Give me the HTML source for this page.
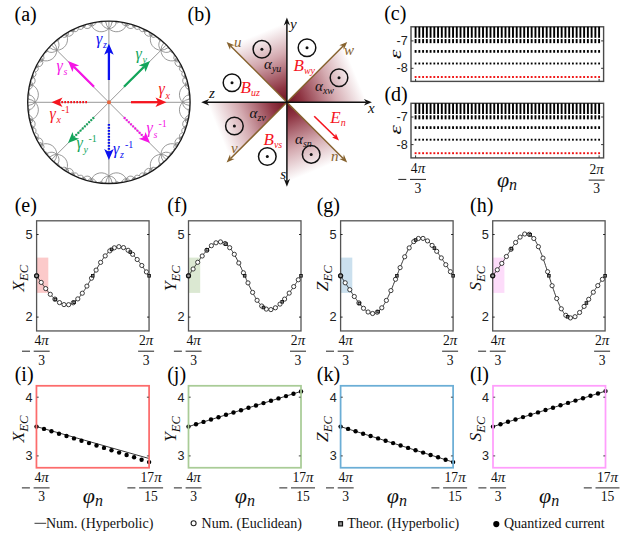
<!DOCTYPE html>
<html><head><meta charset="utf-8"><title>figure</title>
<style>html,body{margin:0;padding:0;background:#fff;}svg{display:block;}.sf{font-family:"Liberation Serif",serif;}.ss{font-family:"Liberation Sans",sans-serif;}</style>
</head><body>
<svg width="640" height="536" viewBox="0 0 640 536">
<rect width="640" height="536" fill="#fff"/>
<g id="pa">
<path d="M108.9 102.3L182.6 102.3M108.9 102.3L161.0 50.2M108.9 102.3L108.9 28.6M108.9 102.3L56.8 50.2M108.9 102.3L35.2 102.3M108.9 102.3L56.8 154.4M108.9 102.3L108.9 176.0M108.9 102.3L161.0 154.4M182.6 102.3L189.5 102.3M182.6 102.3A10.8 10.8 0 0 1 189.4 99.2M182.6 102.3A7.6 7.6 0 0 1 188.8 94.8M182.6 102.3A10.8 10.8 0 0 1 185.6 84.9M182.6 102.3A10.8 10.8 0 0 0 185.6 119.7M182.6 102.3A7.6 7.6 0 0 0 188.8 109.8M182.6 102.3A10.8 10.8 0 0 0 189.4 105.4M161.0 50.2A10.8 10.8 0 0 0 168.0 47.6M161.0 50.2L165.9 45.3M161.0 50.2A10.8 10.8 0 0 1 163.6 43.2M161.0 50.2A7.6 7.6 0 0 1 160.1 40.5M161.0 50.2A10.8 10.8 0 0 1 150.9 35.8M161.0 50.2A10.8 10.8 0 0 0 175.4 60.3M161.0 50.2A7.6 7.6 0 0 0 170.7 51.1M108.9 28.6A7.6 7.6 0 0 0 116.4 22.4M108.9 28.6A10.8 10.8 0 0 0 112.0 21.8M108.9 28.6L108.9 21.7M108.9 28.6A10.8 10.8 0 0 1 105.8 21.8M108.9 28.6A7.6 7.6 0 0 1 101.4 22.4M108.9 28.6A10.8 10.8 0 0 1 91.5 25.6M108.9 28.6A10.8 10.8 0 0 0 126.3 25.6M56.8 50.2A10.8 10.8 0 0 0 66.9 35.8M56.8 50.2A7.6 7.6 0 0 0 57.7 40.5M56.8 50.2A10.8 10.8 0 0 0 54.2 43.2M56.8 50.2L51.9 45.3M56.8 50.2A10.8 10.8 0 0 1 49.8 47.6M56.8 50.2A7.6 7.6 0 0 1 47.1 51.1M56.8 50.2A10.8 10.8 0 0 1 42.4 60.3M35.2 102.3A10.8 10.8 0 0 0 32.2 84.9M35.2 102.3A7.6 7.6 0 0 0 29.0 94.8M35.2 102.3A10.8 10.8 0 0 0 28.4 99.2M35.2 102.3L28.3 102.3M35.2 102.3A10.8 10.8 0 0 1 28.4 105.4M35.2 102.3A7.6 7.6 0 0 1 29.0 109.8M35.2 102.3A10.8 10.8 0 0 1 32.2 119.7M56.8 154.4A10.8 10.8 0 0 1 66.9 168.8M56.8 154.4A10.8 10.8 0 0 0 42.4 144.3M56.8 154.4A7.6 7.6 0 0 0 47.1 153.5M56.8 154.4A10.8 10.8 0 0 0 49.8 157.0M56.8 154.4L51.9 159.3M56.8 154.4A10.8 10.8 0 0 1 54.2 161.4M56.8 154.4A7.6 7.6 0 0 1 57.7 164.1M108.9 176.0A7.6 7.6 0 0 1 116.4 182.2M108.9 176.0A10.8 10.8 0 0 1 126.3 179.0M108.9 176.0A10.8 10.8 0 0 0 91.5 179.0M108.9 176.0A7.6 7.6 0 0 0 101.4 182.2M108.9 176.0A10.8 10.8 0 0 0 105.8 182.8M108.9 176.0L108.9 182.9M108.9 176.0A10.8 10.8 0 0 1 112.0 182.8M161.0 154.4A10.8 10.8 0 0 1 168.0 157.0M161.0 154.4A7.6 7.6 0 0 1 170.7 153.5M161.0 154.4A10.8 10.8 0 0 1 175.4 144.3M161.0 154.4A10.8 10.8 0 0 0 150.9 168.8M161.0 154.4A7.6 7.6 0 0 0 160.1 164.1M161.0 154.4A10.8 10.8 0 0 0 163.6 161.4M161.0 154.4L165.9 159.3M189.5 102.3L189.9 102.3M189.4 99.2A0.6 0.6 0 0 1 189.6 98.1M188.8 94.8A0.7 0.7 0 0 1 189.4 94.0M188.8 94.8A1.1 1.1 0 0 1 189.1 92.8M188.8 94.8A0.9 0.9 0 0 0 189.5 96.2M185.6 84.9A2.8 2.8 0 0 0 188.3 88.7M185.6 84.9A2.4 2.4 0 0 0 188.1 86.3M185.6 84.9A4.5 4.5 0 0 0 187.9 85.1M185.6 84.9A10.8 10.8 0 0 1 187.7 84.2M185.6 84.9A2.8 2.8 0 0 1 187.5 83.2M185.6 84.9A2.4 2.4 0 0 1 186.9 81.6M185.6 84.9A4.5 4.5 0 0 1 184.4 77.1M185.6 119.7A2.8 2.8 0 0 1 188.3 115.9M185.6 119.7A4.5 4.5 0 0 0 184.4 127.5M185.6 119.7A2.4 2.4 0 0 0 186.9 123.0M185.6 119.7A2.8 2.8 0 0 0 187.5 121.4M185.6 119.7A10.8 10.8 0 0 0 187.7 120.4M185.6 119.7A4.5 4.5 0 0 1 187.9 119.5M185.6 119.7A2.4 2.4 0 0 1 188.1 118.3M188.8 109.8A0.9 0.9 0 0 1 189.5 108.4M188.8 109.8A1.1 1.1 0 0 0 189.1 111.8M188.8 109.8A0.7 0.7 0 0 0 189.4 110.6M189.4 105.4A0.6 0.6 0 0 0 189.6 106.5M168.0 47.6A0.6 0.6 0 0 0 169.0 48.2M165.9 45.3L166.2 45.0M163.6 43.2A0.6 0.6 0 0 1 163.0 42.2M160.1 40.5A0.9 0.9 0 0 0 161.6 41.0M160.1 40.5A0.7 0.7 0 0 1 159.9 39.5M160.1 40.5A1.1 1.1 0 0 1 158.9 38.9M150.9 35.8A2.8 2.8 0 0 0 155.4 36.6M150.9 35.8A2.4 2.4 0 0 0 153.6 35.0M150.9 35.8A4.5 4.5 0 0 0 152.6 34.3M150.9 35.8A10.8 10.8 0 0 1 151.8 33.7M150.9 35.8A2.8 2.8 0 0 1 150.9 33.2M150.9 35.8A2.4 2.4 0 0 1 149.4 32.5M150.9 35.8A4.5 4.5 0 0 1 144.5 31.1M175.4 60.3A2.4 2.4 0 0 1 176.2 57.6M175.4 60.3A2.8 2.8 0 0 1 174.6 55.8M175.4 60.3A4.5 4.5 0 0 0 180.1 66.7M175.4 60.3A2.4 2.4 0 0 0 178.7 61.8M175.4 60.3A2.8 2.8 0 0 0 178.0 60.3M175.4 60.3A10.8 10.8 0 0 0 177.5 59.4M175.4 60.3A4.5 4.5 0 0 1 176.9 58.6M170.7 51.1A0.9 0.9 0 0 1 170.2 49.6M170.7 51.1A1.1 1.1 0 0 0 172.3 52.3M170.7 51.1A0.7 0.7 0 0 0 171.7 51.3M116.4 22.4A0.9 0.9 0 0 1 115.0 21.7M116.4 22.4A1.1 1.1 0 0 0 118.4 22.1M116.4 22.4A0.7 0.7 0 0 0 117.2 21.8M112.0 21.8A0.6 0.6 0 0 0 113.1 21.6M108.9 21.7L108.9 21.3M105.8 21.8A0.6 0.6 0 0 1 104.7 21.6M101.4 22.4A0.9 0.9 0 0 0 102.8 21.7M101.4 22.4A0.7 0.7 0 0 1 100.6 21.8M101.4 22.4A1.1 1.1 0 0 1 99.4 22.1M91.5 25.6A4.5 4.5 0 0 1 83.7 26.8M91.5 25.6A2.8 2.8 0 0 0 95.3 22.9M91.5 25.6A2.4 2.4 0 0 0 92.9 23.1M91.5 25.6A4.5 4.5 0 0 0 91.7 23.3M91.5 25.6A10.8 10.8 0 0 1 90.8 23.5M91.5 25.6A2.8 2.8 0 0 1 89.8 23.7M91.5 25.6A2.4 2.4 0 0 1 88.2 24.3M126.3 25.6A4.5 4.5 0 0 1 126.1 23.3M126.3 25.6A2.4 2.4 0 0 1 124.9 23.1M126.3 25.6A2.8 2.8 0 0 1 122.5 22.9M126.3 25.6A4.5 4.5 0 0 0 134.1 26.8M126.3 25.6A2.4 2.4 0 0 0 129.6 24.3M126.3 25.6A2.8 2.8 0 0 0 128.0 23.7M126.3 25.6A10.8 10.8 0 0 0 127.0 23.5M66.9 35.8A10.8 10.8 0 0 0 66.0 33.7M66.9 35.8A4.5 4.5 0 0 1 65.2 34.3M66.9 35.8A2.4 2.4 0 0 1 64.2 35.0M66.9 35.8A2.8 2.8 0 0 1 62.4 36.6M66.9 35.8A4.5 4.5 0 0 0 73.3 31.1M66.9 35.8A2.4 2.4 0 0 0 68.4 32.5M66.9 35.8A2.8 2.8 0 0 0 66.9 33.2M57.7 40.5A0.9 0.9 0 0 1 56.2 41.0M57.7 40.5A1.1 1.1 0 0 0 58.9 38.9M57.7 40.5A0.7 0.7 0 0 0 57.9 39.5M54.2 43.2A0.6 0.6 0 0 0 54.8 42.2M51.9 45.3L51.6 45.0M49.8 47.6A0.6 0.6 0 0 1 48.8 48.2M47.1 51.1A1.1 1.1 0 0 1 45.5 52.3M47.1 51.1A0.9 0.9 0 0 0 47.6 49.6M47.1 51.1A0.7 0.7 0 0 1 46.1 51.3M42.4 60.3A2.4 2.4 0 0 1 39.1 61.8M42.4 60.3A4.5 4.5 0 0 1 37.7 66.7M42.4 60.3A2.8 2.8 0 0 0 43.2 55.8M42.4 60.3A2.4 2.4 0 0 0 41.6 57.6M42.4 60.3A4.5 4.5 0 0 0 40.9 58.6M42.4 60.3A10.8 10.8 0 0 1 40.3 59.4M42.4 60.3A2.8 2.8 0 0 1 39.8 60.3M32.2 84.9A2.8 2.8 0 0 0 30.3 83.2M32.2 84.9A10.8 10.8 0 0 0 30.1 84.2M32.2 84.9A4.5 4.5 0 0 1 29.9 85.1M32.2 84.9A2.4 2.4 0 0 1 29.7 86.3M32.2 84.9A2.8 2.8 0 0 1 29.5 88.7M32.2 84.9A4.5 4.5 0 0 0 33.4 77.1M32.2 84.9A2.4 2.4 0 0 0 30.9 81.6M29.0 94.8A0.7 0.7 0 0 0 28.4 94.0M29.0 94.8A0.9 0.9 0 0 1 28.3 96.2M29.0 94.8A1.1 1.1 0 0 0 28.7 92.8M28.4 99.2A0.6 0.6 0 0 0 28.2 98.1M28.3 102.3L27.9 102.3M28.4 105.4A0.6 0.6 0 0 1 28.2 106.5M29.0 109.8A0.7 0.7 0 0 1 28.4 110.6M29.0 109.8A1.1 1.1 0 0 1 28.7 111.8M29.0 109.8A0.9 0.9 0 0 0 28.3 108.4M32.2 119.7A2.8 2.8 0 0 1 30.3 121.4M32.2 119.7A2.4 2.4 0 0 1 30.9 123.0M32.2 119.7A4.5 4.5 0 0 1 33.4 127.5M32.2 119.7A2.8 2.8 0 0 0 29.5 115.9M32.2 119.7A2.4 2.4 0 0 0 29.7 118.3M32.2 119.7A4.5 4.5 0 0 0 29.9 119.5M32.2 119.7A10.8 10.8 0 0 1 30.1 120.4M66.9 168.8A10.8 10.8 0 0 1 66.0 170.9M66.9 168.8A2.8 2.8 0 0 1 66.9 171.4M66.9 168.8A2.4 2.4 0 0 1 68.4 172.1M66.9 168.8A4.5 4.5 0 0 1 73.3 173.5M66.9 168.8A2.8 2.8 0 0 0 62.4 168.0M66.9 168.8A2.4 2.4 0 0 0 64.2 169.6M66.9 168.8A4.5 4.5 0 0 0 65.2 170.3M42.4 144.3A2.4 2.4 0 0 0 39.1 142.8M42.4 144.3A2.8 2.8 0 0 0 39.8 144.3M42.4 144.3A10.8 10.8 0 0 0 40.3 145.2M42.4 144.3A4.5 4.5 0 0 1 40.9 146.0M42.4 144.3A2.4 2.4 0 0 1 41.6 147.0M42.4 144.3A2.8 2.8 0 0 1 43.2 148.8M42.4 144.3A4.5 4.5 0 0 0 37.7 137.9M47.1 153.5A1.1 1.1 0 0 0 45.5 152.3M47.1 153.5A0.7 0.7 0 0 0 46.1 153.3M47.1 153.5A0.9 0.9 0 0 1 47.6 155.0M49.8 157.0A0.6 0.6 0 0 0 48.8 156.4M51.9 159.3L51.6 159.6M54.2 161.4A0.6 0.6 0 0 1 54.8 162.4M57.7 164.1A0.7 0.7 0 0 1 57.9 165.1M57.7 164.1A1.1 1.1 0 0 1 58.9 165.7M57.7 164.1A0.9 0.9 0 0 0 56.2 163.6M116.4 182.2A0.7 0.7 0 0 1 117.2 182.8M116.4 182.2A1.1 1.1 0 0 1 118.4 182.5M116.4 182.2A0.9 0.9 0 0 0 115.0 182.9M126.3 179.0A4.5 4.5 0 0 0 126.1 181.3M126.3 179.0A10.8 10.8 0 0 1 127.0 181.1M126.3 179.0A2.8 2.8 0 0 1 128.0 180.9M126.3 179.0A2.4 2.4 0 0 1 129.6 180.3M126.3 179.0A4.5 4.5 0 0 1 134.1 177.8M126.3 179.0A2.8 2.8 0 0 0 122.5 181.7M126.3 179.0A2.4 2.4 0 0 0 124.9 181.5M91.5 179.0A4.5 4.5 0 0 0 83.7 177.8M91.5 179.0A2.4 2.4 0 0 0 88.2 180.3M91.5 179.0A2.8 2.8 0 0 0 89.8 180.9M91.5 179.0A10.8 10.8 0 0 0 90.8 181.1M91.5 179.0A4.5 4.5 0 0 1 91.7 181.3M91.5 179.0A2.4 2.4 0 0 1 92.9 181.5M91.5 179.0A2.8 2.8 0 0 1 95.3 181.7M101.4 182.2A1.1 1.1 0 0 0 99.4 182.5M101.4 182.2A0.7 0.7 0 0 0 100.6 182.8M101.4 182.2A0.9 0.9 0 0 1 102.8 182.9M105.8 182.8A0.6 0.6 0 0 0 104.7 183.0M108.9 182.9L108.9 183.3M112.0 182.8A0.6 0.6 0 0 1 113.1 183.0M168.0 157.0A0.6 0.6 0 0 1 169.0 156.4M170.7 153.5A0.7 0.7 0 0 1 171.7 153.3M170.7 153.5A1.1 1.1 0 0 1 172.3 152.3M170.7 153.5A0.9 0.9 0 0 0 170.2 155.0M175.4 144.3A2.4 2.4 0 0 0 176.2 147.0M175.4 144.3A4.5 4.5 0 0 0 176.9 146.0M175.4 144.3A10.8 10.8 0 0 1 177.5 145.2M175.4 144.3A2.8 2.8 0 0 1 178.0 144.3M175.4 144.3A2.4 2.4 0 0 1 178.7 142.8M175.4 144.3A4.5 4.5 0 0 1 180.1 137.9M175.4 144.3A2.8 2.8 0 0 0 174.6 148.8M150.9 168.8A4.5 4.5 0 0 0 144.5 173.5M150.9 168.8A2.4 2.4 0 0 0 149.4 172.1M150.9 168.8A2.8 2.8 0 0 0 150.9 171.4M150.9 168.8A10.8 10.8 0 0 0 151.8 170.9M150.9 168.8A4.5 4.5 0 0 1 152.6 170.3M150.9 168.8A2.4 2.4 0 0 1 153.6 169.6M150.9 168.8A2.8 2.8 0 0 1 155.4 168.0M160.1 164.1A0.9 0.9 0 0 1 161.6 163.6M160.1 164.1A1.1 1.1 0 0 0 158.9 165.7M160.1 164.1A0.7 0.7 0 0 0 159.9 165.1M163.6 161.4A0.6 0.6 0 0 0 163.0 162.4M165.9 159.3L166.2 159.6M189.9 102.3L189.9 102.3M189.1 92.8A0.6 0.6 0 0 1 189.0 91.8M188.3 88.7A0.8 0.8 0 0 0 188.7 90.1M184.4 77.1A1.5 1.5 0 0 1 184.9 74.9M184.4 77.1A3.2 3.2 0 0 1 182.6 71.8M184.4 77.1A1.6 1.6 0 0 0 186.2 78.9M184.4 77.1A1.5 1.5 0 0 0 186.0 77.7M184.4 77.1A3.2 3.2 0 0 0 185.8 77.0M184.4 77.1A4.5 4.5 0 0 1 185.6 76.5M184.4 77.1A1.6 1.6 0 0 1 185.4 75.9M188.3 115.9A0.8 0.8 0 0 1 188.7 114.5M184.4 127.5A1.5 1.5 0 0 0 184.9 129.7M184.4 127.5A1.6 1.6 0 0 0 185.4 128.7M184.4 127.5A4.5 4.5 0 0 0 185.6 128.1M184.4 127.5A3.2 3.2 0 0 1 185.8 127.6M184.4 127.5A1.5 1.5 0 0 1 186.0 126.9M184.4 127.5A1.6 1.6 0 0 1 186.2 125.7M184.4 127.5A3.2 3.2 0 0 0 182.6 132.8M189.1 111.8A0.6 0.6 0 0 0 189.0 112.8M158.9 38.9A0.6 0.6 0 0 1 158.1 38.2M155.4 36.6A0.8 0.8 0 0 0 156.7 37.2M144.5 31.1A1.6 1.6 0 0 1 144.3 29.5M144.5 31.1A1.5 1.5 0 0 1 143.3 29.2M144.5 31.1A3.2 3.2 0 0 1 139.4 28.6M144.5 31.1A1.6 1.6 0 0 0 147.0 31.1M144.5 31.1A1.5 1.5 0 0 0 146.0 30.4M144.5 31.1A3.2 3.2 0 0 0 145.4 30.1M144.5 31.1A4.5 4.5 0 0 1 144.9 29.8M174.6 55.8A0.8 0.8 0 0 1 174.0 54.5M180.1 66.7A3.2 3.2 0 0 0 182.6 71.8M180.1 66.7A1.5 1.5 0 0 0 182.0 67.9M180.1 66.7A1.6 1.6 0 0 0 181.7 66.9M180.1 66.7A4.5 4.5 0 0 0 181.4 66.3M180.1 66.7A3.2 3.2 0 0 1 181.1 65.8M180.1 66.7A1.5 1.5 0 0 1 180.8 65.2M180.1 66.7A1.6 1.6 0 0 1 180.1 64.2M172.3 52.3A0.6 0.6 0 0 0 173.0 53.1M118.4 22.1A0.6 0.6 0 0 0 119.4 22.2M99.4 22.1A0.6 0.6 0 0 1 98.4 22.2M83.7 26.8A4.5 4.5 0 0 1 83.1 25.6M83.7 26.8A1.6 1.6 0 0 1 82.5 25.8M83.7 26.8A1.5 1.5 0 0 1 81.5 26.3M83.7 26.8A3.2 3.2 0 0 1 78.4 28.6M83.7 26.8A1.6 1.6 0 0 0 85.5 25.0M83.7 26.8A1.5 1.5 0 0 0 84.3 25.2M83.7 26.8A3.2 3.2 0 0 0 83.6 25.4M95.3 22.9A0.8 0.8 0 0 0 96.7 22.5M122.5 22.9A0.8 0.8 0 0 1 121.1 22.5M134.1 26.8A3.2 3.2 0 0 0 139.4 28.6M134.1 26.8A1.5 1.5 0 0 0 136.3 26.3M134.1 26.8A1.6 1.6 0 0 0 135.3 25.8M134.1 26.8A4.5 4.5 0 0 0 134.7 25.6M134.1 26.8A3.2 3.2 0 0 1 134.2 25.4M134.1 26.8A1.5 1.5 0 0 1 133.5 25.2M134.1 26.8A1.6 1.6 0 0 1 132.3 25.0M62.4 36.6A0.8 0.8 0 0 1 61.1 37.2M73.3 31.1A1.6 1.6 0 0 1 70.8 31.1M73.3 31.1A3.2 3.2 0 0 0 78.4 28.6M73.3 31.1A1.5 1.5 0 0 0 74.5 29.2M73.3 31.1A1.6 1.6 0 0 0 73.5 29.5M73.3 31.1A4.5 4.5 0 0 0 72.9 29.8M73.3 31.1A3.2 3.2 0 0 1 72.4 30.1M73.3 31.1A1.5 1.5 0 0 1 71.8 30.4M58.9 38.9A0.6 0.6 0 0 0 59.7 38.2M45.5 52.3A0.6 0.6 0 0 1 44.8 53.1M37.7 66.7A3.2 3.2 0 0 0 36.7 65.8M37.7 66.7A4.5 4.5 0 0 1 36.4 66.3M37.7 66.7A1.6 1.6 0 0 1 36.1 66.9M37.7 66.7A1.5 1.5 0 0 1 35.8 67.9M37.7 66.7A3.2 3.2 0 0 1 35.2 71.8M37.7 66.7A1.6 1.6 0 0 0 37.7 64.2M37.7 66.7A1.5 1.5 0 0 0 37.0 65.2M43.2 55.8A0.8 0.8 0 0 0 43.8 54.5M29.5 88.7A0.8 0.8 0 0 1 29.1 90.1M33.4 77.1A1.5 1.5 0 0 1 31.8 77.7M33.4 77.1A1.6 1.6 0 0 1 31.6 78.9M33.4 77.1A3.2 3.2 0 0 0 35.2 71.8M33.4 77.1A1.5 1.5 0 0 0 32.9 74.9M33.4 77.1A1.6 1.6 0 0 0 32.4 75.9M33.4 77.1A4.5 4.5 0 0 0 32.2 76.5M33.4 77.1A3.2 3.2 0 0 1 32.0 77.0M28.7 92.8A0.6 0.6 0 0 0 28.8 91.8M28.7 111.8A0.6 0.6 0 0 1 28.8 112.8M33.4 127.5A1.5 1.5 0 0 0 31.8 126.9M33.4 127.5A3.2 3.2 0 0 0 32.0 127.6M33.4 127.5A4.5 4.5 0 0 1 32.2 128.1M33.4 127.5A1.6 1.6 0 0 1 32.4 128.7M33.4 127.5A1.5 1.5 0 0 1 32.9 129.7M33.4 127.5A3.2 3.2 0 0 1 35.2 132.8M33.4 127.5A1.6 1.6 0 0 0 31.6 125.7M29.5 115.9A0.8 0.8 0 0 0 29.1 114.5M73.3 173.5A1.6 1.6 0 0 0 70.8 173.5M73.3 173.5A1.5 1.5 0 0 0 71.8 174.2M73.3 173.5A3.2 3.2 0 0 0 72.4 174.5M73.3 173.5A4.5 4.5 0 0 1 72.9 174.8M73.3 173.5A1.6 1.6 0 0 1 73.5 175.1M73.3 173.5A1.5 1.5 0 0 1 74.5 175.4M73.3 173.5A3.2 3.2 0 0 1 78.4 176.0M62.4 168.0A0.8 0.8 0 0 0 61.1 167.4M43.2 148.8A0.8 0.8 0 0 1 43.8 150.1M37.7 137.9A3.2 3.2 0 0 1 36.7 138.8M37.7 137.9A1.5 1.5 0 0 1 37.0 139.4M37.7 137.9A1.6 1.6 0 0 1 37.7 140.4M37.7 137.9A3.2 3.2 0 0 0 35.2 132.8M37.7 137.9A1.5 1.5 0 0 0 35.8 136.7M37.7 137.9A1.6 1.6 0 0 0 36.1 137.7M37.7 137.9A4.5 4.5 0 0 0 36.4 138.3M45.5 152.3A0.6 0.6 0 0 0 44.8 151.5M58.9 165.7A0.6 0.6 0 0 1 59.7 166.4M118.4 182.5A0.6 0.6 0 0 1 119.4 182.4M134.1 177.8A1.6 1.6 0 0 0 132.3 179.6M134.1 177.8A1.5 1.5 0 0 0 133.5 179.4M134.1 177.8A3.2 3.2 0 0 0 134.2 179.2M134.1 177.8A4.5 4.5 0 0 1 134.7 179.0M134.1 177.8A1.6 1.6 0 0 1 135.3 178.8M134.1 177.8A1.5 1.5 0 0 1 136.3 178.3M134.1 177.8A3.2 3.2 0 0 1 139.4 176.0M122.5 181.7A0.8 0.8 0 0 0 121.1 182.1M83.7 177.8A4.5 4.5 0 0 0 83.1 179.0M83.7 177.8A3.2 3.2 0 0 1 83.6 179.2M83.7 177.8A1.5 1.5 0 0 1 84.3 179.4M83.7 177.8A1.6 1.6 0 0 1 85.5 179.6M83.7 177.8A3.2 3.2 0 0 0 78.4 176.0M83.7 177.8A1.5 1.5 0 0 0 81.5 178.3M83.7 177.8A1.6 1.6 0 0 0 82.5 178.8M95.3 181.7A0.8 0.8 0 0 1 96.7 182.1M99.4 182.5A0.6 0.6 0 0 0 98.4 182.4M172.3 152.3A0.6 0.6 0 0 1 173.0 151.5M180.1 137.9A3.2 3.2 0 0 1 182.6 132.8M180.1 137.9A1.6 1.6 0 0 0 180.1 140.4M180.1 137.9A1.5 1.5 0 0 0 180.8 139.4M180.1 137.9A3.2 3.2 0 0 0 181.1 138.8M180.1 137.9A4.5 4.5 0 0 1 181.4 138.3M180.1 137.9A1.6 1.6 0 0 1 181.7 137.7M180.1 137.9A1.5 1.5 0 0 1 182.0 136.7M174.6 148.8A0.8 0.8 0 0 0 174.0 150.1M144.5 173.5A1.6 1.6 0 0 0 144.3 175.1M144.5 173.5A4.5 4.5 0 0 0 144.9 174.8M144.5 173.5A3.2 3.2 0 0 1 145.4 174.5M144.5 173.5A1.5 1.5 0 0 1 146.0 174.2M144.5 173.5A1.6 1.6 0 0 1 147.0 173.5M144.5 173.5A3.2 3.2 0 0 0 139.4 176.0M144.5 173.5A1.5 1.5 0 0 0 143.3 175.4M155.4 168.0A0.8 0.8 0 0 1 156.7 167.4M158.9 165.7A0.6 0.6 0 0 0 158.1 166.4" fill="none" stroke="#858585" stroke-width="0.85"/>
<circle cx="108.9" cy="102.3" r="81.2" fill="none" stroke="#1a1a1a" stroke-width="1.35"/>
<line x1="108.9" y1="80.0" x2="108.9" y2="52.0" stroke="#0a10f0" stroke-width="2.30"/><path d="M108.9 43.8L113.7 54.8L108.9 52.0L104.2 54.8Z" fill="#0a10f0"/>
<line x1="124.0" y1="86.8" x2="144.1" y2="66.8" stroke="#12a55a" stroke-width="2.30"/><path d="M150.0 61.0L145.5 72.1L144.1 66.8L138.8 65.4Z" fill="#12a55a"/>
<line x1="94.0" y1="86.8" x2="73.9" y2="66.8" stroke="#f514e6" stroke-width="2.30"/><path d="M68.0 61.0L79.2 65.4L73.9 66.8L72.5 72.1Z" fill="#f514e6"/>
<line x1="131.0" y1="102.2" x2="158.2" y2="102.2" stroke="#f5141e" stroke-width="2.30"/><path d="M166.5 102.2L155.5 107.0L158.2 102.2L155.5 97.5Z" fill="#f5141e"/>
<line x1="87.0" y1="102.2" x2="59.8" y2="102.2" stroke="#f5141e" stroke-width="2.30" stroke-dasharray="1.7 1.3"/><path d="M51.5 102.2L62.5 97.5L59.8 102.2L62.5 107.0Z" fill="#f5141e"/>
<line x1="94.0" y1="117.4" x2="73.9" y2="137.2" stroke="#12a55a" stroke-width="2.30" stroke-dasharray="1.7 1.3"/><path d="M68.0 143.0L72.5 131.9L73.9 137.2L79.2 138.7Z" fill="#12a55a"/>
<line x1="108.9" y1="124.0" x2="108.9" y2="151.8" stroke="#0a10f0" stroke-width="2.30" stroke-dasharray="1.7 1.3"/><path d="M108.9 160.0L104.2 149.0L108.9 151.8L113.7 149.0Z" fill="#0a10f0"/>
<line x1="124.0" y1="117.4" x2="144.1" y2="137.2" stroke="#f514e6" stroke-width="2.30" stroke-dasharray="1.7 1.3"/><path d="M150.0 143.0L138.8 138.7L144.1 137.2L145.5 131.9Z" fill="#f514e6"/>
<circle cx="109" cy="102.2" r="2" fill="#e8643c"/>
<text x="96.0" y="43.9" fill="#0a10f0" class="sf" font-style="italic" font-size="16">γ</text><text x="103.0" y="48.1" fill="#0a10f0" class="sf" font-style="italic" font-size="10">z</text>
<text x="135.5" y="58.9" fill="#12a55a" class="sf" font-style="italic" font-size="16">γ</text><text x="142.5" y="63.1" fill="#12a55a" class="sf" font-style="italic" font-size="10">y</text>
<text x="56.5" y="70.9" fill="#f514e6" class="sf" font-style="italic" font-size="16">γ</text><text x="63.5" y="75.1" fill="#f514e6" class="sf" font-style="italic" font-size="10">s</text>
<text x="158.5" y="94.4" fill="#f5141e" class="sf" font-style="italic" font-size="16">γ</text><text x="165.5" y="98.6" fill="#f5141e" class="sf" font-style="italic" font-size="10">x</text>
<text x="49.5" y="118.9" fill="#f5141e" class="sf" font-style="italic" font-size="16">γ</text><text x="56.5" y="123.1" fill="#f5141e" class="sf" font-style="italic" font-size="10">x</text><text x="61.5" y="112.7" fill="#f5141e" class="sf" font-size="10">-1</text>
<text x="76.5" y="148.4" fill="#12a55a" class="sf" font-style="italic" font-size="16">γ</text><text x="83.5" y="152.6" fill="#12a55a" class="sf" font-style="italic" font-size="10">y</text><text x="88.5" y="142.2" fill="#12a55a" class="sf" font-size="10">-1</text>
<text x="113.0" y="153.9" fill="#0a10f0" class="sf" font-style="italic" font-size="16">γ</text><text x="120.0" y="158.1" fill="#0a10f0" class="sf" font-style="italic" font-size="10">z</text><text x="125.0" y="147.7" fill="#0a10f0" class="sf" font-size="10">-1</text>
<text x="146.5" y="133.4" fill="#f514e6" class="sf" font-style="italic" font-size="16">γ</text><text x="153.5" y="137.6" fill="#f514e6" class="sf" font-style="italic" font-size="10">s</text><text x="158.5" y="127.2" fill="#f514e6" class="sf" font-size="10">-1</text>
</g>
<g id="pb">
<defs><linearGradient id="lg0" gradientUnits="userSpaceOnUse" x1="286.9" y1="102.2" x2="258.6" y2="33.8"><stop offset="0" stop-color="#6e1420"/><stop offset="0.2" stop-color="#8e3442"/><stop offset="0.62" stop-color="#d4aab0"/><stop offset="1" stop-color="#ffffff"/></linearGradient><linearGradient id="lg1" gradientUnits="userSpaceOnUse" x1="286.9" y1="102.2" x2="355.3" y2="73.9"><stop offset="0" stop-color="#6e1420"/><stop offset="0.2" stop-color="#8e3442"/><stop offset="0.62" stop-color="#d4aab0"/><stop offset="1" stop-color="#ffffff"/></linearGradient><linearGradient id="lg2" gradientUnits="userSpaceOnUse" x1="286.9" y1="102.2" x2="218.5" y2="130.5"><stop offset="0" stop-color="#6e1420"/><stop offset="0.2" stop-color="#8e3442"/><stop offset="0.62" stop-color="#d4aab0"/><stop offset="1" stop-color="#ffffff"/></linearGradient><linearGradient id="lg3" gradientUnits="userSpaceOnUse" x1="286.9" y1="102.2" x2="315.2" y2="170.6"><stop offset="0" stop-color="#6e1420"/><stop offset="0.2" stop-color="#8e3442"/><stop offset="0.62" stop-color="#d4aab0"/><stop offset="1" stop-color="#ffffff"/></linearGradient></defs>
<path d="M286.9 102.2L286.9 14.2A88 88 0 0 0 224.7 40.0Z" fill="url(#lg0)"/>
<path d="M286.9 102.2L374.9 102.2A88 88 0 0 0 349.1 40.0Z" fill="url(#lg1)"/>
<path d="M286.9 102.2L198.9 102.2A88 88 0 0 0 224.7 164.4Z" fill="url(#lg2)"/>
<path d="M286.9 102.2L286.9 190.2A88 88 0 0 0 349.1 164.4Z" fill="url(#lg3)"/>
<line x1="286.9" y1="102.2" x2="230.6" y2="45.9" stroke="#86622e" stroke-width="1.45"/><path d="M226.6 41.9L234.5 45.3L230.6 45.9L230.0 49.8Z" fill="#86622e"/>
<line x1="286.9" y1="102.2" x2="343.2" y2="45.9" stroke="#86622e" stroke-width="1.45"/><path d="M347.2 41.9L343.8 49.8L343.2 45.9L339.3 45.3Z" fill="#86622e"/>
<line x1="286.9" y1="102.2" x2="230.6" y2="158.5" stroke="#86622e" stroke-width="1.45"/><path d="M226.6 162.5L230.0 154.6L230.6 158.5L234.5 159.1Z" fill="#86622e"/>
<line x1="286.9" y1="102.2" x2="343.2" y2="158.5" stroke="#86622e" stroke-width="1.45"/><path d="M347.2 162.5L339.3 159.1L343.2 158.5L343.8 154.6Z" fill="#86622e"/>
<line x1="286.9" y1="102.2" x2="286.9" y2="23.0" stroke="#111" stroke-width="1.50"/><path d="M286.9 17.4L290.0 25.4L286.9 23.0L283.8 25.4Z" fill="#111"/>
<line x1="286.9" y1="102.2" x2="286.9" y2="181.2" stroke="#111" stroke-width="1.50"/><path d="M286.9 186.8L283.8 178.8L286.9 181.2L290.0 178.8Z" fill="#111"/>
<line x1="286.9" y1="102.2" x2="206.8" y2="102.2" stroke="#111" stroke-width="1.50"/><path d="M201.2 102.2L209.2 99.0L206.8 102.2L209.2 105.4Z" fill="#111"/>
<line x1="286.9" y1="102.2" x2="366.3" y2="102.2" stroke="#111" stroke-width="1.50"/><path d="M371.9 102.2L363.9 105.4L366.3 102.2L363.9 99.0Z" fill="#111"/>
<circle cx="261.9" cy="49.3" r="8.8" fill="none" stroke="#111" stroke-width="1.5"/><circle cx="261.9" cy="49.3" r="1.5" fill="#111"/>
<circle cx="307.0" cy="47.8" r="8.8" fill="none" stroke="#111" stroke-width="1.5"/><circle cx="307.0" cy="47.8" r="1.5" fill="#111"/>
<circle cx="339.0" cy="77.7" r="8.8" fill="none" stroke="#111" stroke-width="1.5"/><circle cx="339.0" cy="77.7" r="1.5" fill="#111"/>
<circle cx="232.0" cy="82.7" r="8.8" fill="none" stroke="#111" stroke-width="1.5"/><circle cx="232.0" cy="82.7" r="1.5" fill="#111"/>
<circle cx="234.4" cy="126.0" r="8.8" fill="none" stroke="#111" stroke-width="1.5"/><circle cx="234.4" cy="126.0" r="1.5" fill="#111"/>
<circle cx="267.3" cy="156.5" r="8.8" fill="none" stroke="#111" stroke-width="1.5"/><circle cx="267.3" cy="156.5" r="1.5" fill="#111"/>
<circle cx="311.2" cy="154.4" r="8.8" fill="none" stroke="#111" stroke-width="1.5"/><circle cx="311.2" cy="154.4" r="1.5" fill="#111"/>
<text x="264.0" y="69.0" fill="#111" class="sf" font-style="italic" font-size="15">α<tspan font-size="10" dy="3">yu</tspan></text>
<text x="293.5" y="71.0" fill="#f5141e" class="sf" font-style="italic" font-size="17">B<tspan font-size="10" dy="3">wy</tspan></text>
<text x="315.0" y="90.5" fill="#111" class="sf" font-style="italic" font-size="15">α<tspan font-size="10" dy="3">xw</tspan></text>
<text x="240.5" y="93.0" fill="#f5141e" class="sf" font-style="italic" font-size="17">B<tspan font-size="10" dy="3">uz</tspan></text>
<text x="249.5" y="117.5" fill="#111" class="sf" font-style="italic" font-size="15">α<tspan font-size="10" dy="3">zv</tspan></text>
<text x="263.5" y="144.8" fill="#f5141e" class="sf" font-style="italic" font-size="17">B<tspan font-size="10" dy="3">vs</tspan></text>
<text x="295.0" y="144.0" fill="#111" class="sf" font-style="italic" font-size="15">α<tspan font-size="10" dy="3">sn</tspan></text>
<text x="330.3" y="122.5" fill="#f5141e" class="sf" font-style="italic" font-size="17">E<tspan font-size="10" dy="3">n</tspan></text>
<line x1="314.2" y1="116.2" x2="335.0" y2="136.5" stroke="#f5141e" stroke-width="1.60"/><path d="M339.0 140.4L332.1 137.5L335.0 136.5L335.9 133.5Z" fill="#f5141e"/>
<text x="290.0" y="29.0" fill="#111" class="sf" font-style="italic" font-size="15">y</text>
<text x="368.0" y="113.0" fill="#111" class="sf" font-style="italic" font-size="15">x</text>
<text x="209.0" y="98.0" fill="#111" class="sf" font-style="italic" font-size="15">z</text>
<text x="280.3" y="178.5" fill="#111" class="sf" font-style="italic" font-size="15">s</text>
<text x="234.0" y="47.0" fill="#86622e" class="sf" font-style="italic" font-size="15">u</text>
<text x="344.0" y="55.0" fill="#86622e" class="sf" font-style="italic" font-size="15">w</text>
<text x="231.0" y="152.5" fill="#86622e" class="sf" font-style="italic" font-size="15">v</text>
<text x="331.0" y="160.5" fill="#86622e" class="sf" font-style="italic" font-size="15">n</text>
</g>
<g id="pc">
<rect x="411.0" y="26.8" width="192.6" height="54.6" fill="#fff" stroke="#4a4a4a" stroke-width="1.4"/><rect x="414.65" y="26.8" width="1.9" height="11.0" fill="#000"/><rect x="418.39" y="26.8" width="1.9" height="11.0" fill="#000"/><rect x="422.14" y="26.8" width="1.9" height="11.0" fill="#000"/><rect x="425.88" y="26.8" width="1.9" height="11.0" fill="#000"/><rect x="429.63" y="26.8" width="1.9" height="11.0" fill="#000"/><rect x="433.37" y="26.8" width="1.9" height="11.0" fill="#000"/><rect x="437.12" y="26.8" width="1.9" height="11.0" fill="#000"/><rect x="440.86" y="26.8" width="1.9" height="11.0" fill="#000"/><rect x="444.61" y="26.8" width="1.9" height="11.0" fill="#000"/><rect x="448.35" y="26.8" width="1.9" height="11.0" fill="#000"/><rect x="452.10" y="26.8" width="1.9" height="11.0" fill="#000"/><rect x="455.84" y="26.8" width="1.9" height="11.0" fill="#000"/><rect x="459.59" y="26.8" width="1.9" height="11.0" fill="#000"/><rect x="463.33" y="26.8" width="1.9" height="11.0" fill="#000"/><rect x="467.08" y="26.8" width="1.9" height="11.0" fill="#000"/><rect x="470.82" y="26.8" width="1.9" height="11.0" fill="#000"/><rect x="474.57" y="26.8" width="1.9" height="11.0" fill="#000"/><rect x="478.31" y="26.8" width="1.9" height="11.0" fill="#000"/><rect x="482.06" y="26.8" width="1.9" height="11.0" fill="#000"/><rect x="485.80" y="26.8" width="1.9" height="11.0" fill="#000"/><rect x="489.55" y="26.8" width="1.9" height="11.0" fill="#000"/><rect x="493.29" y="26.8" width="1.9" height="11.0" fill="#000"/><rect x="497.04" y="26.8" width="1.9" height="11.0" fill="#000"/><rect x="500.78" y="26.8" width="1.9" height="11.0" fill="#000"/><rect x="504.53" y="26.8" width="1.9" height="11.0" fill="#000"/><rect x="508.27" y="26.8" width="1.9" height="11.0" fill="#000"/><rect x="512.02" y="26.8" width="1.9" height="11.0" fill="#000"/><rect x="515.76" y="26.8" width="1.9" height="11.0" fill="#000"/><rect x="519.51" y="26.8" width="1.9" height="11.0" fill="#000"/><rect x="523.25" y="26.8" width="1.9" height="11.0" fill="#000"/><rect x="527.00" y="26.8" width="1.9" height="11.0" fill="#000"/><rect x="530.74" y="26.8" width="1.9" height="11.0" fill="#000"/><rect x="534.49" y="26.8" width="1.9" height="11.0" fill="#000"/><rect x="538.23" y="26.8" width="1.9" height="11.0" fill="#000"/><rect x="541.98" y="26.8" width="1.9" height="11.0" fill="#000"/><rect x="545.72" y="26.8" width="1.9" height="11.0" fill="#000"/><rect x="549.47" y="26.8" width="1.9" height="11.0" fill="#000"/><rect x="553.21" y="26.8" width="1.9" height="11.0" fill="#000"/><rect x="556.96" y="26.8" width="1.9" height="11.0" fill="#000"/><rect x="560.70" y="26.8" width="1.9" height="11.0" fill="#000"/><rect x="564.45" y="26.8" width="1.9" height="11.0" fill="#000"/><rect x="568.19" y="26.8" width="1.9" height="11.0" fill="#000"/><rect x="571.94" y="26.8" width="1.9" height="11.0" fill="#000"/><rect x="575.68" y="26.8" width="1.9" height="11.0" fill="#000"/><rect x="579.43" y="26.8" width="1.9" height="11.0" fill="#000"/><rect x="583.17" y="26.8" width="1.9" height="11.0" fill="#000"/><rect x="586.92" y="26.8" width="1.9" height="11.0" fill="#000"/><rect x="590.66" y="26.8" width="1.9" height="11.0" fill="#000"/><rect x="594.41" y="26.8" width="1.9" height="11.0" fill="#000"/><rect x="598.15" y="26.8" width="1.9" height="11.0" fill="#000"/><rect x="414.65" y="39.05" width="1.9" height="4.1" fill="#000"/><rect x="418.39" y="39.05" width="1.9" height="4.1" fill="#000"/><rect x="422.14" y="39.05" width="1.9" height="4.1" fill="#000"/><rect x="425.88" y="39.05" width="1.9" height="4.1" fill="#000"/><rect x="429.63" y="39.05" width="1.9" height="4.1" fill="#000"/><rect x="433.37" y="39.05" width="1.9" height="4.1" fill="#000"/><rect x="437.12" y="39.05" width="1.9" height="4.1" fill="#000"/><rect x="440.86" y="39.05" width="1.9" height="4.1" fill="#000"/><rect x="444.61" y="39.05" width="1.9" height="4.1" fill="#000"/><rect x="448.35" y="39.05" width="1.9" height="4.1" fill="#000"/><rect x="452.10" y="39.05" width="1.9" height="4.1" fill="#000"/><rect x="455.84" y="39.05" width="1.9" height="4.1" fill="#000"/><rect x="459.59" y="39.05" width="1.9" height="4.1" fill="#000"/><rect x="463.33" y="39.05" width="1.9" height="4.1" fill="#000"/><rect x="467.08" y="39.05" width="1.9" height="4.1" fill="#000"/><rect x="470.82" y="39.05" width="1.9" height="4.1" fill="#000"/><rect x="474.57" y="39.05" width="1.9" height="4.1" fill="#000"/><rect x="478.31" y="39.05" width="1.9" height="4.1" fill="#000"/><rect x="482.06" y="39.05" width="1.9" height="4.1" fill="#000"/><rect x="485.80" y="39.05" width="1.9" height="4.1" fill="#000"/><rect x="489.55" y="39.05" width="1.9" height="4.1" fill="#000"/><rect x="493.29" y="39.05" width="1.9" height="4.1" fill="#000"/><rect x="497.04" y="39.05" width="1.9" height="4.1" fill="#000"/><rect x="500.78" y="39.05" width="1.9" height="4.1" fill="#000"/><rect x="504.53" y="39.05" width="1.9" height="4.1" fill="#000"/><rect x="508.27" y="39.05" width="1.9" height="4.1" fill="#000"/><rect x="512.02" y="39.05" width="1.9" height="4.1" fill="#000"/><rect x="515.76" y="39.05" width="1.9" height="4.1" fill="#000"/><rect x="519.51" y="39.05" width="1.9" height="4.1" fill="#000"/><rect x="523.25" y="39.05" width="1.9" height="4.1" fill="#000"/><rect x="527.00" y="39.05" width="1.9" height="4.1" fill="#000"/><rect x="530.74" y="39.05" width="1.9" height="4.1" fill="#000"/><rect x="534.49" y="39.05" width="1.9" height="4.1" fill="#000"/><rect x="538.23" y="39.05" width="1.9" height="4.1" fill="#000"/><rect x="541.98" y="39.05" width="1.9" height="4.1" fill="#000"/><rect x="545.72" y="39.05" width="1.9" height="4.1" fill="#000"/><rect x="549.47" y="39.05" width="1.9" height="4.1" fill="#000"/><rect x="553.21" y="39.05" width="1.9" height="4.1" fill="#000"/><rect x="556.96" y="39.05" width="1.9" height="4.1" fill="#000"/><rect x="560.70" y="39.05" width="1.9" height="4.1" fill="#000"/><rect x="564.45" y="39.05" width="1.9" height="4.1" fill="#000"/><rect x="568.19" y="39.05" width="1.9" height="4.1" fill="#000"/><rect x="571.94" y="39.05" width="1.9" height="4.1" fill="#000"/><rect x="575.68" y="39.05" width="1.9" height="4.1" fill="#000"/><rect x="579.43" y="39.05" width="1.9" height="4.1" fill="#000"/><rect x="583.17" y="39.05" width="1.9" height="4.1" fill="#000"/><rect x="586.92" y="39.05" width="1.9" height="4.1" fill="#000"/><rect x="590.66" y="39.05" width="1.9" height="4.1" fill="#000"/><rect x="594.41" y="39.05" width="1.9" height="4.1" fill="#000"/><rect x="598.15" y="39.05" width="1.9" height="4.1" fill="#000"/><rect x="414.65" y="50.05" width="1.9" height="2.7" fill="#000"/><rect x="418.39" y="50.05" width="1.9" height="2.7" fill="#000"/><rect x="422.14" y="50.05" width="1.9" height="2.7" fill="#000"/><rect x="425.88" y="50.05" width="1.9" height="2.7" fill="#000"/><rect x="429.63" y="50.05" width="1.9" height="2.7" fill="#000"/><rect x="433.37" y="50.05" width="1.9" height="2.7" fill="#000"/><rect x="437.12" y="50.05" width="1.9" height="2.7" fill="#000"/><rect x="440.86" y="50.05" width="1.9" height="2.7" fill="#000"/><rect x="444.61" y="50.05" width="1.9" height="2.7" fill="#000"/><rect x="448.35" y="50.05" width="1.9" height="2.7" fill="#000"/><rect x="452.10" y="50.05" width="1.9" height="2.7" fill="#000"/><rect x="455.84" y="50.05" width="1.9" height="2.7" fill="#000"/><rect x="459.59" y="50.05" width="1.9" height="2.7" fill="#000"/><rect x="463.33" y="50.05" width="1.9" height="2.7" fill="#000"/><rect x="467.08" y="50.05" width="1.9" height="2.7" fill="#000"/><rect x="470.82" y="50.05" width="1.9" height="2.7" fill="#000"/><rect x="474.57" y="50.05" width="1.9" height="2.7" fill="#000"/><rect x="478.31" y="50.05" width="1.9" height="2.7" fill="#000"/><rect x="482.06" y="50.05" width="1.9" height="2.7" fill="#000"/><rect x="485.80" y="50.05" width="1.9" height="2.7" fill="#000"/><rect x="489.55" y="50.05" width="1.9" height="2.7" fill="#000"/><rect x="493.29" y="50.05" width="1.9" height="2.7" fill="#000"/><rect x="497.04" y="50.05" width="1.9" height="2.7" fill="#000"/><rect x="500.78" y="50.05" width="1.9" height="2.7" fill="#000"/><rect x="504.53" y="50.05" width="1.9" height="2.7" fill="#000"/><rect x="508.27" y="50.05" width="1.9" height="2.7" fill="#000"/><rect x="512.02" y="50.05" width="1.9" height="2.7" fill="#000"/><rect x="515.76" y="50.05" width="1.9" height="2.7" fill="#000"/><rect x="519.51" y="50.05" width="1.9" height="2.7" fill="#000"/><rect x="523.25" y="50.05" width="1.9" height="2.7" fill="#000"/><rect x="527.00" y="50.05" width="1.9" height="2.7" fill="#000"/><rect x="530.74" y="50.05" width="1.9" height="2.7" fill="#000"/><rect x="534.49" y="50.05" width="1.9" height="2.7" fill="#000"/><rect x="538.23" y="50.05" width="1.9" height="2.7" fill="#000"/><rect x="541.98" y="50.05" width="1.9" height="2.7" fill="#000"/><rect x="545.72" y="50.05" width="1.9" height="2.7" fill="#000"/><rect x="549.47" y="50.05" width="1.9" height="2.7" fill="#000"/><rect x="553.21" y="50.05" width="1.9" height="2.7" fill="#000"/><rect x="556.96" y="50.05" width="1.9" height="2.7" fill="#000"/><rect x="560.70" y="50.05" width="1.9" height="2.7" fill="#000"/><rect x="564.45" y="50.05" width="1.9" height="2.7" fill="#000"/><rect x="568.19" y="50.05" width="1.9" height="2.7" fill="#000"/><rect x="571.94" y="50.05" width="1.9" height="2.7" fill="#000"/><rect x="575.68" y="50.05" width="1.9" height="2.7" fill="#000"/><rect x="579.43" y="50.05" width="1.9" height="2.7" fill="#000"/><rect x="583.17" y="50.05" width="1.9" height="2.7" fill="#000"/><rect x="586.92" y="50.05" width="1.9" height="2.7" fill="#000"/><rect x="590.66" y="50.05" width="1.9" height="2.7" fill="#000"/><rect x="594.41" y="50.05" width="1.9" height="2.7" fill="#000"/><rect x="598.15" y="50.05" width="1.9" height="2.7" fill="#000"/><rect x="414.70" y="62.55" width="1.8" height="1.9" fill="#000"/><rect x="418.44" y="62.55" width="1.8" height="1.9" fill="#000"/><rect x="422.19" y="62.55" width="1.8" height="1.9" fill="#000"/><rect x="425.93" y="62.55" width="1.8" height="1.9" fill="#000"/><rect x="429.68" y="62.55" width="1.8" height="1.9" fill="#000"/><rect x="433.42" y="62.55" width="1.8" height="1.9" fill="#000"/><rect x="437.17" y="62.55" width="1.8" height="1.9" fill="#000"/><rect x="440.91" y="62.55" width="1.8" height="1.9" fill="#000"/><rect x="444.66" y="62.55" width="1.8" height="1.9" fill="#000"/><rect x="448.40" y="62.55" width="1.8" height="1.9" fill="#000"/><rect x="452.15" y="62.55" width="1.8" height="1.9" fill="#000"/><rect x="455.89" y="62.55" width="1.8" height="1.9" fill="#000"/><rect x="459.64" y="62.55" width="1.8" height="1.9" fill="#000"/><rect x="463.38" y="62.55" width="1.8" height="1.9" fill="#000"/><rect x="467.13" y="62.55" width="1.8" height="1.9" fill="#000"/><rect x="470.87" y="62.55" width="1.8" height="1.9" fill="#000"/><rect x="474.62" y="62.55" width="1.8" height="1.9" fill="#000"/><rect x="478.36" y="62.55" width="1.8" height="1.9" fill="#000"/><rect x="482.11" y="62.55" width="1.8" height="1.9" fill="#000"/><rect x="485.85" y="62.55" width="1.8" height="1.9" fill="#000"/><rect x="489.60" y="62.55" width="1.8" height="1.9" fill="#000"/><rect x="493.34" y="62.55" width="1.8" height="1.9" fill="#000"/><rect x="497.09" y="62.55" width="1.8" height="1.9" fill="#000"/><rect x="500.83" y="62.55" width="1.8" height="1.9" fill="#000"/><rect x="504.58" y="62.55" width="1.8" height="1.9" fill="#000"/><rect x="508.32" y="62.55" width="1.8" height="1.9" fill="#000"/><rect x="512.07" y="62.55" width="1.8" height="1.9" fill="#000"/><rect x="515.81" y="62.55" width="1.8" height="1.9" fill="#000"/><rect x="519.56" y="62.55" width="1.8" height="1.9" fill="#000"/><rect x="523.30" y="62.55" width="1.8" height="1.9" fill="#000"/><rect x="527.05" y="62.55" width="1.8" height="1.9" fill="#000"/><rect x="530.79" y="62.55" width="1.8" height="1.9" fill="#000"/><rect x="534.54" y="62.55" width="1.8" height="1.9" fill="#000"/><rect x="538.28" y="62.55" width="1.8" height="1.9" fill="#000"/><rect x="542.03" y="62.55" width="1.8" height="1.9" fill="#000"/><rect x="545.77" y="62.55" width="1.8" height="1.9" fill="#000"/><rect x="549.52" y="62.55" width="1.8" height="1.9" fill="#000"/><rect x="553.26" y="62.55" width="1.8" height="1.9" fill="#000"/><rect x="557.01" y="62.55" width="1.8" height="1.9" fill="#000"/><rect x="560.75" y="62.55" width="1.8" height="1.9" fill="#000"/><rect x="564.50" y="62.55" width="1.8" height="1.9" fill="#000"/><rect x="568.24" y="62.55" width="1.8" height="1.9" fill="#000"/><rect x="571.99" y="62.55" width="1.8" height="1.9" fill="#000"/><rect x="575.73" y="62.55" width="1.8" height="1.9" fill="#000"/><rect x="579.48" y="62.55" width="1.8" height="1.9" fill="#000"/><rect x="583.22" y="62.55" width="1.8" height="1.9" fill="#000"/><rect x="586.97" y="62.55" width="1.8" height="1.9" fill="#000"/><rect x="590.71" y="62.55" width="1.8" height="1.9" fill="#000"/><rect x="594.46" y="62.55" width="1.8" height="1.9" fill="#000"/><rect x="598.20" y="62.55" width="1.8" height="1.9" fill="#000"/><rect x="414.65" y="76.05" width="1.9" height="1.9" fill="#f01010"/><rect x="418.39" y="76.05" width="1.9" height="1.9" fill="#f01010"/><rect x="422.14" y="76.05" width="1.9" height="1.9" fill="#f01010"/><rect x="425.88" y="76.05" width="1.9" height="1.9" fill="#f01010"/><rect x="429.63" y="76.05" width="1.9" height="1.9" fill="#f01010"/><rect x="433.37" y="76.05" width="1.9" height="1.9" fill="#f01010"/><rect x="437.12" y="76.05" width="1.9" height="1.9" fill="#f01010"/><rect x="440.86" y="76.05" width="1.9" height="1.9" fill="#f01010"/><rect x="444.61" y="76.05" width="1.9" height="1.9" fill="#f01010"/><rect x="448.35" y="76.05" width="1.9" height="1.9" fill="#f01010"/><rect x="452.10" y="76.05" width="1.9" height="1.9" fill="#f01010"/><rect x="455.84" y="76.05" width="1.9" height="1.9" fill="#f01010"/><rect x="459.59" y="76.05" width="1.9" height="1.9" fill="#f01010"/><rect x="463.33" y="76.05" width="1.9" height="1.9" fill="#f01010"/><rect x="467.08" y="76.05" width="1.9" height="1.9" fill="#f01010"/><rect x="470.82" y="76.05" width="1.9" height="1.9" fill="#f01010"/><rect x="474.57" y="76.05" width="1.9" height="1.9" fill="#f01010"/><rect x="478.31" y="76.05" width="1.9" height="1.9" fill="#f01010"/><rect x="482.06" y="76.05" width="1.9" height="1.9" fill="#f01010"/><rect x="485.80" y="76.05" width="1.9" height="1.9" fill="#f01010"/><rect x="489.55" y="76.05" width="1.9" height="1.9" fill="#f01010"/><rect x="493.29" y="76.05" width="1.9" height="1.9" fill="#f01010"/><rect x="497.04" y="76.05" width="1.9" height="1.9" fill="#f01010"/><rect x="500.78" y="76.05" width="1.9" height="1.9" fill="#f01010"/><rect x="504.53" y="76.05" width="1.9" height="1.9" fill="#f01010"/><rect x="508.27" y="76.05" width="1.9" height="1.9" fill="#f01010"/><rect x="512.02" y="76.05" width="1.9" height="1.9" fill="#f01010"/><rect x="515.76" y="76.05" width="1.9" height="1.9" fill="#f01010"/><rect x="519.51" y="76.05" width="1.9" height="1.9" fill="#f01010"/><rect x="523.25" y="76.05" width="1.9" height="1.9" fill="#f01010"/><rect x="527.00" y="76.05" width="1.9" height="1.9" fill="#f01010"/><rect x="530.74" y="76.05" width="1.9" height="1.9" fill="#f01010"/><rect x="534.49" y="76.05" width="1.9" height="1.9" fill="#f01010"/><rect x="538.23" y="76.05" width="1.9" height="1.9" fill="#f01010"/><rect x="541.98" y="76.05" width="1.9" height="1.9" fill="#f01010"/><rect x="545.72" y="76.05" width="1.9" height="1.9" fill="#f01010"/><rect x="549.47" y="76.05" width="1.9" height="1.9" fill="#f01010"/><rect x="553.21" y="76.05" width="1.9" height="1.9" fill="#f01010"/><rect x="556.96" y="76.05" width="1.9" height="1.9" fill="#f01010"/><rect x="560.70" y="76.05" width="1.9" height="1.9" fill="#f01010"/><rect x="564.45" y="76.05" width="1.9" height="1.9" fill="#f01010"/><rect x="568.19" y="76.05" width="1.9" height="1.9" fill="#f01010"/><rect x="571.94" y="76.05" width="1.9" height="1.9" fill="#f01010"/><rect x="575.68" y="76.05" width="1.9" height="1.9" fill="#f01010"/><rect x="579.43" y="76.05" width="1.9" height="1.9" fill="#f01010"/><rect x="583.17" y="76.05" width="1.9" height="1.9" fill="#f01010"/><rect x="586.92" y="76.05" width="1.9" height="1.9" fill="#f01010"/><rect x="590.66" y="76.05" width="1.9" height="1.9" fill="#f01010"/><rect x="594.41" y="76.05" width="1.9" height="1.9" fill="#f01010"/><rect x="598.15" y="76.05" width="1.9" height="1.9" fill="#f01010"/><line x1="411.0" y1="40.9" x2="413.5" y2="40.9" stroke="#333" stroke-width="1"/><line x1="603.6" y1="40.9" x2="601.1" y2="40.9" stroke="#333" stroke-width="1"/><line x1="411.0" y1="68.3" x2="413.5" y2="68.3" stroke="#333" stroke-width="1"/><line x1="603.6" y1="68.3" x2="601.1" y2="68.3" stroke="#333" stroke-width="1"/><line x1="415.6" y1="81.4" x2="415.6" y2="78.9" stroke="#333" stroke-width="1"/><line x1="599.1" y1="81.4" x2="599.1" y2="78.9" stroke="#333" stroke-width="1"/>
<rect x="411.0" y="103.3" width="192.6" height="54.6" fill="#fff" stroke="#4a4a4a" stroke-width="1.4"/><rect x="414.65" y="103.3" width="1.9" height="10.7" fill="#000"/><rect x="418.39" y="103.3" width="1.9" height="10.7" fill="#000"/><rect x="422.14" y="103.3" width="1.9" height="10.7" fill="#000"/><rect x="425.88" y="103.3" width="1.9" height="10.7" fill="#000"/><rect x="429.63" y="103.3" width="1.9" height="10.7" fill="#000"/><rect x="433.37" y="103.3" width="1.9" height="10.7" fill="#000"/><rect x="437.12" y="103.3" width="1.9" height="10.7" fill="#000"/><rect x="440.86" y="103.3" width="1.9" height="10.7" fill="#000"/><rect x="444.61" y="103.3" width="1.9" height="10.7" fill="#000"/><rect x="448.35" y="103.3" width="1.9" height="10.7" fill="#000"/><rect x="452.10" y="103.3" width="1.9" height="10.7" fill="#000"/><rect x="455.84" y="103.3" width="1.9" height="10.7" fill="#000"/><rect x="459.59" y="103.3" width="1.9" height="10.7" fill="#000"/><rect x="463.33" y="103.3" width="1.9" height="10.7" fill="#000"/><rect x="467.08" y="103.3" width="1.9" height="10.7" fill="#000"/><rect x="470.82" y="103.3" width="1.9" height="10.7" fill="#000"/><rect x="474.57" y="103.3" width="1.9" height="10.7" fill="#000"/><rect x="478.31" y="103.3" width="1.9" height="10.7" fill="#000"/><rect x="482.06" y="103.3" width="1.9" height="10.7" fill="#000"/><rect x="485.80" y="103.3" width="1.9" height="10.7" fill="#000"/><rect x="489.55" y="103.3" width="1.9" height="10.7" fill="#000"/><rect x="493.29" y="103.3" width="1.9" height="10.7" fill="#000"/><rect x="497.04" y="103.3" width="1.9" height="10.7" fill="#000"/><rect x="500.78" y="103.3" width="1.9" height="10.7" fill="#000"/><rect x="504.53" y="103.3" width="1.9" height="10.7" fill="#000"/><rect x="508.27" y="103.3" width="1.9" height="10.7" fill="#000"/><rect x="512.02" y="103.3" width="1.9" height="10.7" fill="#000"/><rect x="515.76" y="103.3" width="1.9" height="10.7" fill="#000"/><rect x="519.51" y="103.3" width="1.9" height="10.7" fill="#000"/><rect x="523.25" y="103.3" width="1.9" height="10.7" fill="#000"/><rect x="527.00" y="103.3" width="1.9" height="10.7" fill="#000"/><rect x="530.74" y="103.3" width="1.9" height="10.7" fill="#000"/><rect x="534.49" y="103.3" width="1.9" height="10.7" fill="#000"/><rect x="538.23" y="103.3" width="1.9" height="10.7" fill="#000"/><rect x="541.98" y="103.3" width="1.9" height="10.7" fill="#000"/><rect x="545.72" y="103.3" width="1.9" height="10.7" fill="#000"/><rect x="549.47" y="103.3" width="1.9" height="10.7" fill="#000"/><rect x="553.21" y="103.3" width="1.9" height="10.7" fill="#000"/><rect x="556.96" y="103.3" width="1.9" height="10.7" fill="#000"/><rect x="560.70" y="103.3" width="1.9" height="10.7" fill="#000"/><rect x="564.45" y="103.3" width="1.9" height="10.7" fill="#000"/><rect x="568.19" y="103.3" width="1.9" height="10.7" fill="#000"/><rect x="571.94" y="103.3" width="1.9" height="10.7" fill="#000"/><rect x="575.68" y="103.3" width="1.9" height="10.7" fill="#000"/><rect x="579.43" y="103.3" width="1.9" height="10.7" fill="#000"/><rect x="583.17" y="103.3" width="1.9" height="10.7" fill="#000"/><rect x="586.92" y="103.3" width="1.9" height="10.7" fill="#000"/><rect x="590.66" y="103.3" width="1.9" height="10.7" fill="#000"/><rect x="594.41" y="103.3" width="1.9" height="10.7" fill="#000"/><rect x="598.15" y="103.3" width="1.9" height="10.7" fill="#000"/><rect x="414.65" y="115.25" width="1.9" height="4.1" fill="#000"/><rect x="418.39" y="115.25" width="1.9" height="4.1" fill="#000"/><rect x="422.14" y="115.25" width="1.9" height="4.1" fill="#000"/><rect x="425.88" y="115.25" width="1.9" height="4.1" fill="#000"/><rect x="429.63" y="115.25" width="1.9" height="4.1" fill="#000"/><rect x="433.37" y="115.25" width="1.9" height="4.1" fill="#000"/><rect x="437.12" y="115.25" width="1.9" height="4.1" fill="#000"/><rect x="440.86" y="115.25" width="1.9" height="4.1" fill="#000"/><rect x="444.61" y="115.25" width="1.9" height="4.1" fill="#000"/><rect x="448.35" y="115.25" width="1.9" height="4.1" fill="#000"/><rect x="452.10" y="115.25" width="1.9" height="4.1" fill="#000"/><rect x="455.84" y="115.25" width="1.9" height="4.1" fill="#000"/><rect x="459.59" y="115.25" width="1.9" height="4.1" fill="#000"/><rect x="463.33" y="115.25" width="1.9" height="4.1" fill="#000"/><rect x="467.08" y="115.25" width="1.9" height="4.1" fill="#000"/><rect x="470.82" y="115.25" width="1.9" height="4.1" fill="#000"/><rect x="474.57" y="115.25" width="1.9" height="4.1" fill="#000"/><rect x="478.31" y="115.25" width="1.9" height="4.1" fill="#000"/><rect x="482.06" y="115.25" width="1.9" height="4.1" fill="#000"/><rect x="485.80" y="115.25" width="1.9" height="4.1" fill="#000"/><rect x="489.55" y="115.25" width="1.9" height="4.1" fill="#000"/><rect x="493.29" y="115.25" width="1.9" height="4.1" fill="#000"/><rect x="497.04" y="115.25" width="1.9" height="4.1" fill="#000"/><rect x="500.78" y="115.25" width="1.9" height="4.1" fill="#000"/><rect x="504.53" y="115.25" width="1.9" height="4.1" fill="#000"/><rect x="508.27" y="115.25" width="1.9" height="4.1" fill="#000"/><rect x="512.02" y="115.25" width="1.9" height="4.1" fill="#000"/><rect x="515.76" y="115.25" width="1.9" height="4.1" fill="#000"/><rect x="519.51" y="115.25" width="1.9" height="4.1" fill="#000"/><rect x="523.25" y="115.25" width="1.9" height="4.1" fill="#000"/><rect x="527.00" y="115.25" width="1.9" height="4.1" fill="#000"/><rect x="530.74" y="115.25" width="1.9" height="4.1" fill="#000"/><rect x="534.49" y="115.25" width="1.9" height="4.1" fill="#000"/><rect x="538.23" y="115.25" width="1.9" height="4.1" fill="#000"/><rect x="541.98" y="115.25" width="1.9" height="4.1" fill="#000"/><rect x="545.72" y="115.25" width="1.9" height="4.1" fill="#000"/><rect x="549.47" y="115.25" width="1.9" height="4.1" fill="#000"/><rect x="553.21" y="115.25" width="1.9" height="4.1" fill="#000"/><rect x="556.96" y="115.25" width="1.9" height="4.1" fill="#000"/><rect x="560.70" y="115.25" width="1.9" height="4.1" fill="#000"/><rect x="564.45" y="115.25" width="1.9" height="4.1" fill="#000"/><rect x="568.19" y="115.25" width="1.9" height="4.1" fill="#000"/><rect x="571.94" y="115.25" width="1.9" height="4.1" fill="#000"/><rect x="575.68" y="115.25" width="1.9" height="4.1" fill="#000"/><rect x="579.43" y="115.25" width="1.9" height="4.1" fill="#000"/><rect x="583.17" y="115.25" width="1.9" height="4.1" fill="#000"/><rect x="586.92" y="115.25" width="1.9" height="4.1" fill="#000"/><rect x="590.66" y="115.25" width="1.9" height="4.1" fill="#000"/><rect x="594.41" y="115.25" width="1.9" height="4.1" fill="#000"/><rect x="598.15" y="115.25" width="1.9" height="4.1" fill="#000"/><rect x="414.65" y="126.25" width="1.9" height="2.7" fill="#000"/><rect x="418.39" y="126.25" width="1.9" height="2.7" fill="#000"/><rect x="422.14" y="126.25" width="1.9" height="2.7" fill="#000"/><rect x="425.88" y="126.25" width="1.9" height="2.7" fill="#000"/><rect x="429.63" y="126.25" width="1.9" height="2.7" fill="#000"/><rect x="433.37" y="126.25" width="1.9" height="2.7" fill="#000"/><rect x="437.12" y="126.25" width="1.9" height="2.7" fill="#000"/><rect x="440.86" y="126.25" width="1.9" height="2.7" fill="#000"/><rect x="444.61" y="126.25" width="1.9" height="2.7" fill="#000"/><rect x="448.35" y="126.25" width="1.9" height="2.7" fill="#000"/><rect x="452.10" y="126.25" width="1.9" height="2.7" fill="#000"/><rect x="455.84" y="126.25" width="1.9" height="2.7" fill="#000"/><rect x="459.59" y="126.25" width="1.9" height="2.7" fill="#000"/><rect x="463.33" y="126.25" width="1.9" height="2.7" fill="#000"/><rect x="467.08" y="126.25" width="1.9" height="2.7" fill="#000"/><rect x="470.82" y="126.25" width="1.9" height="2.7" fill="#000"/><rect x="474.57" y="126.25" width="1.9" height="2.7" fill="#000"/><rect x="478.31" y="126.25" width="1.9" height="2.7" fill="#000"/><rect x="482.06" y="126.25" width="1.9" height="2.7" fill="#000"/><rect x="485.80" y="126.25" width="1.9" height="2.7" fill="#000"/><rect x="489.55" y="126.25" width="1.9" height="2.7" fill="#000"/><rect x="493.29" y="126.25" width="1.9" height="2.7" fill="#000"/><rect x="497.04" y="126.25" width="1.9" height="2.7" fill="#000"/><rect x="500.78" y="126.25" width="1.9" height="2.7" fill="#000"/><rect x="504.53" y="126.25" width="1.9" height="2.7" fill="#000"/><rect x="508.27" y="126.25" width="1.9" height="2.7" fill="#000"/><rect x="512.02" y="126.25" width="1.9" height="2.7" fill="#000"/><rect x="515.76" y="126.25" width="1.9" height="2.7" fill="#000"/><rect x="519.51" y="126.25" width="1.9" height="2.7" fill="#000"/><rect x="523.25" y="126.25" width="1.9" height="2.7" fill="#000"/><rect x="527.00" y="126.25" width="1.9" height="2.7" fill="#000"/><rect x="530.74" y="126.25" width="1.9" height="2.7" fill="#000"/><rect x="534.49" y="126.25" width="1.9" height="2.7" fill="#000"/><rect x="538.23" y="126.25" width="1.9" height="2.7" fill="#000"/><rect x="541.98" y="126.25" width="1.9" height="2.7" fill="#000"/><rect x="545.72" y="126.25" width="1.9" height="2.7" fill="#000"/><rect x="549.47" y="126.25" width="1.9" height="2.7" fill="#000"/><rect x="553.21" y="126.25" width="1.9" height="2.7" fill="#000"/><rect x="556.96" y="126.25" width="1.9" height="2.7" fill="#000"/><rect x="560.70" y="126.25" width="1.9" height="2.7" fill="#000"/><rect x="564.45" y="126.25" width="1.9" height="2.7" fill="#000"/><rect x="568.19" y="126.25" width="1.9" height="2.7" fill="#000"/><rect x="571.94" y="126.25" width="1.9" height="2.7" fill="#000"/><rect x="575.68" y="126.25" width="1.9" height="2.7" fill="#000"/><rect x="579.43" y="126.25" width="1.9" height="2.7" fill="#000"/><rect x="583.17" y="126.25" width="1.9" height="2.7" fill="#000"/><rect x="586.92" y="126.25" width="1.9" height="2.7" fill="#000"/><rect x="590.66" y="126.25" width="1.9" height="2.7" fill="#000"/><rect x="594.41" y="126.25" width="1.9" height="2.7" fill="#000"/><rect x="598.15" y="126.25" width="1.9" height="2.7" fill="#000"/><rect x="414.70" y="138.75" width="1.8" height="1.9" fill="#000"/><rect x="418.44" y="138.75" width="1.8" height="1.9" fill="#000"/><rect x="422.19" y="138.75" width="1.8" height="1.9" fill="#000"/><rect x="425.93" y="138.75" width="1.8" height="1.9" fill="#000"/><rect x="429.68" y="138.75" width="1.8" height="1.9" fill="#000"/><rect x="433.42" y="138.75" width="1.8" height="1.9" fill="#000"/><rect x="437.17" y="138.75" width="1.8" height="1.9" fill="#000"/><rect x="440.91" y="138.75" width="1.8" height="1.9" fill="#000"/><rect x="444.66" y="138.75" width="1.8" height="1.9" fill="#000"/><rect x="448.40" y="138.75" width="1.8" height="1.9" fill="#000"/><rect x="452.15" y="138.75" width="1.8" height="1.9" fill="#000"/><rect x="455.89" y="138.75" width="1.8" height="1.9" fill="#000"/><rect x="459.64" y="138.75" width="1.8" height="1.9" fill="#000"/><rect x="463.38" y="138.75" width="1.8" height="1.9" fill="#000"/><rect x="467.13" y="138.75" width="1.8" height="1.9" fill="#000"/><rect x="470.87" y="138.75" width="1.8" height="1.9" fill="#000"/><rect x="474.62" y="138.75" width="1.8" height="1.9" fill="#000"/><rect x="478.36" y="138.75" width="1.8" height="1.9" fill="#000"/><rect x="482.11" y="138.75" width="1.8" height="1.9" fill="#000"/><rect x="485.85" y="138.75" width="1.8" height="1.9" fill="#000"/><rect x="489.60" y="138.75" width="1.8" height="1.9" fill="#000"/><rect x="493.34" y="138.75" width="1.8" height="1.9" fill="#000"/><rect x="497.09" y="138.75" width="1.8" height="1.9" fill="#000"/><rect x="500.83" y="138.75" width="1.8" height="1.9" fill="#000"/><rect x="504.58" y="138.75" width="1.8" height="1.9" fill="#000"/><rect x="508.32" y="138.75" width="1.8" height="1.9" fill="#000"/><rect x="512.07" y="138.75" width="1.8" height="1.9" fill="#000"/><rect x="515.81" y="138.75" width="1.8" height="1.9" fill="#000"/><rect x="519.56" y="138.75" width="1.8" height="1.9" fill="#000"/><rect x="523.30" y="138.75" width="1.8" height="1.9" fill="#000"/><rect x="527.05" y="138.75" width="1.8" height="1.9" fill="#000"/><rect x="530.79" y="138.75" width="1.8" height="1.9" fill="#000"/><rect x="534.54" y="138.75" width="1.8" height="1.9" fill="#000"/><rect x="538.28" y="138.75" width="1.8" height="1.9" fill="#000"/><rect x="542.03" y="138.75" width="1.8" height="1.9" fill="#000"/><rect x="545.77" y="138.75" width="1.8" height="1.9" fill="#000"/><rect x="549.52" y="138.75" width="1.8" height="1.9" fill="#000"/><rect x="553.26" y="138.75" width="1.8" height="1.9" fill="#000"/><rect x="557.01" y="138.75" width="1.8" height="1.9" fill="#000"/><rect x="560.75" y="138.75" width="1.8" height="1.9" fill="#000"/><rect x="564.50" y="138.75" width="1.8" height="1.9" fill="#000"/><rect x="568.24" y="138.75" width="1.8" height="1.9" fill="#000"/><rect x="571.99" y="138.75" width="1.8" height="1.9" fill="#000"/><rect x="575.73" y="138.75" width="1.8" height="1.9" fill="#000"/><rect x="579.48" y="138.75" width="1.8" height="1.9" fill="#000"/><rect x="583.22" y="138.75" width="1.8" height="1.9" fill="#000"/><rect x="586.97" y="138.75" width="1.8" height="1.9" fill="#000"/><rect x="590.71" y="138.75" width="1.8" height="1.9" fill="#000"/><rect x="594.46" y="138.75" width="1.8" height="1.9" fill="#000"/><rect x="598.20" y="138.75" width="1.8" height="1.9" fill="#000"/><rect x="414.65" y="152.25" width="1.9" height="1.9" fill="#f01010"/><rect x="418.39" y="152.25" width="1.9" height="1.9" fill="#f01010"/><rect x="422.14" y="152.25" width="1.9" height="1.9" fill="#f01010"/><rect x="425.88" y="152.25" width="1.9" height="1.9" fill="#f01010"/><rect x="429.63" y="152.25" width="1.9" height="1.9" fill="#f01010"/><rect x="433.37" y="152.25" width="1.9" height="1.9" fill="#f01010"/><rect x="437.12" y="152.25" width="1.9" height="1.9" fill="#f01010"/><rect x="440.86" y="152.25" width="1.9" height="1.9" fill="#f01010"/><rect x="444.61" y="152.25" width="1.9" height="1.9" fill="#f01010"/><rect x="448.35" y="152.25" width="1.9" height="1.9" fill="#f01010"/><rect x="452.10" y="152.25" width="1.9" height="1.9" fill="#f01010"/><rect x="455.84" y="152.25" width="1.9" height="1.9" fill="#f01010"/><rect x="459.59" y="152.25" width="1.9" height="1.9" fill="#f01010"/><rect x="463.33" y="152.25" width="1.9" height="1.9" fill="#f01010"/><rect x="467.08" y="152.25" width="1.9" height="1.9" fill="#f01010"/><rect x="470.82" y="152.25" width="1.9" height="1.9" fill="#f01010"/><rect x="474.57" y="152.25" width="1.9" height="1.9" fill="#f01010"/><rect x="478.31" y="152.25" width="1.9" height="1.9" fill="#f01010"/><rect x="482.06" y="152.25" width="1.9" height="1.9" fill="#f01010"/><rect x="485.80" y="152.25" width="1.9" height="1.9" fill="#f01010"/><rect x="489.55" y="152.25" width="1.9" height="1.9" fill="#f01010"/><rect x="493.29" y="152.25" width="1.9" height="1.9" fill="#f01010"/><rect x="497.04" y="152.25" width="1.9" height="1.9" fill="#f01010"/><rect x="500.78" y="152.25" width="1.9" height="1.9" fill="#f01010"/><rect x="504.53" y="152.25" width="1.9" height="1.9" fill="#f01010"/><rect x="508.27" y="152.25" width="1.9" height="1.9" fill="#f01010"/><rect x="512.02" y="152.25" width="1.9" height="1.9" fill="#f01010"/><rect x="515.76" y="152.25" width="1.9" height="1.9" fill="#f01010"/><rect x="519.51" y="152.25" width="1.9" height="1.9" fill="#f01010"/><rect x="523.25" y="152.25" width="1.9" height="1.9" fill="#f01010"/><rect x="527.00" y="152.25" width="1.9" height="1.9" fill="#f01010"/><rect x="530.74" y="152.25" width="1.9" height="1.9" fill="#f01010"/><rect x="534.49" y="152.25" width="1.9" height="1.9" fill="#f01010"/><rect x="538.23" y="152.25" width="1.9" height="1.9" fill="#f01010"/><rect x="541.98" y="152.25" width="1.9" height="1.9" fill="#f01010"/><rect x="545.72" y="152.25" width="1.9" height="1.9" fill="#f01010"/><rect x="549.47" y="152.25" width="1.9" height="1.9" fill="#f01010"/><rect x="553.21" y="152.25" width="1.9" height="1.9" fill="#f01010"/><rect x="556.96" y="152.25" width="1.9" height="1.9" fill="#f01010"/><rect x="560.70" y="152.25" width="1.9" height="1.9" fill="#f01010"/><rect x="564.45" y="152.25" width="1.9" height="1.9" fill="#f01010"/><rect x="568.19" y="152.25" width="1.9" height="1.9" fill="#f01010"/><rect x="571.94" y="152.25" width="1.9" height="1.9" fill="#f01010"/><rect x="575.68" y="152.25" width="1.9" height="1.9" fill="#f01010"/><rect x="579.43" y="152.25" width="1.9" height="1.9" fill="#f01010"/><rect x="583.17" y="152.25" width="1.9" height="1.9" fill="#f01010"/><rect x="586.92" y="152.25" width="1.9" height="1.9" fill="#f01010"/><rect x="590.66" y="152.25" width="1.9" height="1.9" fill="#f01010"/><rect x="594.41" y="152.25" width="1.9" height="1.9" fill="#f01010"/><rect x="598.15" y="152.25" width="1.9" height="1.9" fill="#f01010"/><line x1="411.0" y1="117.0" x2="413.5" y2="117.0" stroke="#333" stroke-width="1"/><line x1="603.6" y1="117.0" x2="601.1" y2="117.0" stroke="#333" stroke-width="1"/><line x1="411.0" y1="144.6" x2="413.5" y2="144.6" stroke="#333" stroke-width="1"/><line x1="603.6" y1="144.6" x2="601.1" y2="144.6" stroke="#333" stroke-width="1"/><line x1="415.6" y1="157.9" x2="415.6" y2="155.4" stroke="#333" stroke-width="1"/><line x1="599.1" y1="157.9" x2="599.1" y2="155.4" stroke="#333" stroke-width="1"/>
<text x="407.8" y="44.9" class="ss" font-size="12.6" text-anchor="end" fill="#222">-7</text>
<text x="407.8" y="72.4" class="ss" font-size="12.6" text-anchor="end" fill="#222">-8</text>
<text x="407.8" y="120.7" class="ss" font-size="12.6" text-anchor="end" fill="#222">-7</text>
<text x="407.8" y="149.1" class="ss" font-size="12.6" text-anchor="end" fill="#222">-8</text>
<text transform="translate(400.6 54.2) rotate(-90) scale(1.22 0.9)" text-anchor="middle" class="sf" font-style="italic" font-size="19.5" fill="#111">ε</text>
<text transform="translate(400.6 129.7) rotate(-90) scale(1.22 0.9)" text-anchor="middle" class="sf" font-style="italic" font-size="19.5" fill="#111">ε</text>
</g>
<text x="418.0" y="173.0" text-anchor="middle" class="sf" font-size="13.6" fill="#111">4<tspan font-style="italic" font-size="15">π</tspan></text><line x1="410.0" y1="179.4" x2="426.0" y2="179.4" stroke="#222" stroke-width="1"/><text x="418.0" y="192.7" text-anchor="middle" class="sf" font-size="13.6" fill="#111">3</text><line x1="398.3" y1="179.4" x2="406.3" y2="179.4" stroke="#222" stroke-width="1"/>
<text x="596.7" y="173.7" text-anchor="middle" class="sf" font-size="13.6" fill="#111">2<tspan font-style="italic" font-size="15">π</tspan></text><line x1="588.7" y1="180.1" x2="604.7" y2="180.1" stroke="#222" stroke-width="1"/><text x="596.7" y="193.4" text-anchor="middle" class="sf" font-size="13.6" fill="#111">3</text>
<text x="507.0" y="187.0" text-anchor="middle" class="sf" font-style="italic" font-size="22" fill="#111">φ<tspan font-size="16" dy="3">n</tspan></text>
<g id="pe">
<rect x="36.60" y="220.80" width="112.45" height="110.15" fill="#fff"/><rect x="36.6" y="257.6" width="11.7" height="35.3" fill="#fccaca"/><path d="M36.6 275.8L37.2 276.6L37.7 277.4L38.3 278.2L38.8 279.0L39.4 279.9L40.0 280.7L40.5 281.5L41.1 282.3L41.7 283.0L42.2 283.8L42.8 284.6L43.3 285.4L43.9 286.2L44.5 286.9L45.0 287.7L45.6 288.4L46.2 289.2L46.7 289.9L47.3 290.6L47.8 291.3L48.4 292.0L49.0 292.7L49.5 293.4L50.1 294.1L50.7 294.7L51.2 295.3L51.8 296.0L52.3 296.6L52.9 297.2L53.5 297.7L54.0 298.3L54.6 298.8L55.2 299.3L55.7 299.8L56.3 300.3L56.8 300.8L57.4 301.2L58.0 301.6L58.5 302.0L59.1 302.4L59.7 302.7L60.2 303.1L60.8 303.4L61.3 303.6L61.9 303.9L62.5 304.1L63.0 304.3L63.6 304.5L64.2 304.6L64.7 304.7L65.3 304.8L65.8 304.8L66.4 304.9L67.0 304.9L67.5 304.8L68.1 304.8L68.6 304.7L69.2 304.5L69.8 304.4L70.3 304.2L70.9 304.0L71.5 303.7L72.0 303.5L72.6 303.1L73.1 302.8L73.7 302.4L74.3 302.0L74.8 301.6L75.4 301.1L76.0 300.7L76.5 300.1L77.1 299.6L77.6 299.0L78.2 298.4L78.8 297.8L79.3 297.1L79.9 296.5L80.5 295.7L81.0 295.0L81.6 294.3L82.1 293.5L82.7 292.7L83.3 291.9L83.8 291.0L84.4 290.2L85.0 289.3L85.5 288.4L86.1 287.5L86.6 286.6L87.2 285.6L87.8 284.7L88.3 283.7L88.9 282.8L89.5 281.8L90.0 280.8L90.6 279.8L91.1 278.8L91.7 277.8L92.3 276.8L92.8 275.8L93.4 274.8L93.9 273.8L94.5 272.8L95.1 271.8L95.6 270.8L96.2 269.8L96.8 268.8L97.3 267.9L97.9 266.9L98.4 266.0L99.0 265.0L99.6 264.1L100.1 263.2L100.7 262.3L101.3 261.4L101.8 260.6L102.4 259.7L102.9 258.9L103.5 258.1L104.1 257.3L104.6 256.6L105.2 255.9L105.8 255.2L106.3 254.5L106.9 253.8L107.4 253.2L108.0 252.6L108.6 252.0L109.1 251.5L109.7 251.0L110.3 250.5L110.8 250.0L111.4 249.6L111.9 249.2L112.5 248.8L113.1 248.5L113.6 248.2L114.2 247.9L114.8 247.6L115.3 247.4L115.9 247.2L116.4 247.1L117.0 246.9L117.6 246.8L118.1 246.8L118.7 246.7L119.3 246.7L119.8 246.8L120.4 246.8L120.9 246.9L121.5 247.0L122.1 247.1L122.6 247.3L123.2 247.5L123.7 247.7L124.3 248.0L124.9 248.3L125.4 248.5L126.0 248.9L126.6 249.2L127.1 249.6L127.7 250.0L128.2 250.4L128.8 250.8L129.4 251.3L129.9 251.8L130.5 252.3L131.1 252.8L131.6 253.3L132.2 253.9L132.7 254.5L133.3 255.0L133.9 255.7L134.4 256.3L135.0 256.9L135.6 257.6L136.1 258.2L136.7 258.9L137.2 259.6L137.8 260.3L138.4 261.0L138.9 261.7L139.5 262.4L140.1 263.2L140.6 263.9L141.2 264.7L141.7 265.4L142.3 266.2L142.9 267.0L143.4 267.8L144.0 268.6L144.6 269.4L145.1 270.2L145.7 271.0L146.2 271.8L146.8 272.6L147.4 273.4L147.9 274.2L148.5 275.0L149.1 275.8" fill="none" stroke="#222" stroke-width="0.9"/><circle cx="36.6" cy="275.8" r="2.1" fill="#fff" stroke="#1c1c1c" stroke-width="0.85"/><circle cx="41.2" cy="282.4" r="2.1" fill="#fff" stroke="#1c1c1c" stroke-width="0.85"/><circle cx="45.7" cy="288.6" r="2.1" fill="#fff" stroke="#1c1c1c" stroke-width="0.85"/><circle cx="50.3" cy="294.3" r="2.1" fill="#fff" stroke="#1c1c1c" stroke-width="0.85"/><circle cx="54.9" cy="299.1" r="2.1" fill="#fff" stroke="#1c1c1c" stroke-width="0.85"/><circle cx="59.5" cy="302.6" r="2.1" fill="#fff" stroke="#1c1c1c" stroke-width="0.85"/><circle cx="64.0" cy="304.6" r="2.1" fill="#fff" stroke="#1c1c1c" stroke-width="0.85"/><circle cx="68.6" cy="304.7" r="2.1" fill="#fff" stroke="#1c1c1c" stroke-width="0.85"/><circle cx="73.2" cy="302.8" r="2.1" fill="#fff" stroke="#1c1c1c" stroke-width="0.85"/><circle cx="77.8" cy="298.9" r="2.1" fill="#fff" stroke="#1c1c1c" stroke-width="0.85"/><circle cx="82.3" cy="293.2" r="2.1" fill="#fff" stroke="#1c1c1c" stroke-width="0.85"/><circle cx="86.9" cy="286.1" r="2.1" fill="#fff" stroke="#1c1c1c" stroke-width="0.85"/><circle cx="91.5" cy="278.2" r="2.1" fill="#fff" stroke="#1c1c1c" stroke-width="0.85"/><circle cx="96.1" cy="270.1" r="2.1" fill="#fff" stroke="#1c1c1c" stroke-width="0.85"/><circle cx="100.6" cy="262.4" r="2.1" fill="#fff" stroke="#1c1c1c" stroke-width="0.85"/><circle cx="105.2" cy="255.9" r="2.1" fill="#fff" stroke="#1c1c1c" stroke-width="0.85"/><circle cx="109.8" cy="250.9" r="2.1" fill="#fff" stroke="#1c1c1c" stroke-width="0.85"/><circle cx="114.3" cy="247.8" r="2.1" fill="#fff" stroke="#1c1c1c" stroke-width="0.85"/><circle cx="118.9" cy="246.7" r="2.1" fill="#fff" stroke="#1c1c1c" stroke-width="0.85"/><circle cx="123.5" cy="247.6" r="2.1" fill="#fff" stroke="#1c1c1c" stroke-width="0.85"/><circle cx="128.1" cy="250.3" r="2.1" fill="#fff" stroke="#1c1c1c" stroke-width="0.85"/><circle cx="132.6" cy="254.3" r="2.1" fill="#fff" stroke="#1c1c1c" stroke-width="0.85"/><circle cx="137.2" cy="259.5" r="2.1" fill="#fff" stroke="#1c1c1c" stroke-width="0.85"/><circle cx="141.8" cy="265.5" r="2.1" fill="#fff" stroke="#1c1c1c" stroke-width="0.85"/><circle cx="146.4" cy="271.9" r="2.1" fill="#fff" stroke="#1c1c1c" stroke-width="0.85"/><rect x="36.60" y="220.80" width="112.45" height="110.15" fill="none" stroke="#555" stroke-width="1.3"/><rect x="54.0" y="298.2" width="2.6" height="2.6" fill="#777" fill-opacity="0.7" stroke="#111" stroke-width="0.9"/><rect x="72.8" y="300.9" width="2.6" height="2.6" fill="#777" fill-opacity="0.7" stroke="#111" stroke-width="0.9"/><rect x="91.5" y="274.5" width="2.6" height="2.6" fill="#777" fill-opacity="0.7" stroke="#111" stroke-width="0.9"/><rect x="110.3" y="248.1" width="2.6" height="2.6" fill="#777" fill-opacity="0.7" stroke="#111" stroke-width="0.9"/><rect x="129.0" y="250.8" width="2.6" height="2.6" fill="#777" fill-opacity="0.7" stroke="#111" stroke-width="0.9"/><rect x="147.8" y="274.5" width="2.6" height="2.6" fill="#777" fill-opacity="0.7" stroke="#111" stroke-width="0.9"/><circle cx="36.6" cy="275.8" r="2.0" fill="#999" stroke="#111" stroke-width="1.2"/><line x1="36.6" y1="234.5" x2="38.6" y2="234.5" stroke="#111" stroke-width="0.9"/><line x1="149.1" y1="234.5" x2="147.1" y2="234.5" stroke="#111" stroke-width="0.9"/><text x="32.7" y="238.8" class="ss" font-size="12.8" text-anchor="end" fill="#222">5</text><line x1="36.6" y1="317.1" x2="38.6" y2="317.1" stroke="#111" stroke-width="0.9"/><line x1="149.1" y1="317.1" x2="147.1" y2="317.1" stroke="#111" stroke-width="0.9"/><text x="32.7" y="321.4" class="ss" font-size="12.8" text-anchor="end" fill="#222">2</text><text transform="translate(24.0 278.2) rotate(-90)" text-anchor="middle" class="sf" font-style="italic" font-size="17.5" fill="#111">X<tspan font-size="12.7" dy="4.2">EC</tspan></text><text x="41.7" y="344.9" text-anchor="middle" class="sf" font-size="13.6" fill="#111">4<tspan font-style="italic" font-size="15">π</tspan></text><line x1="33.7" y1="351.2" x2="49.7" y2="351.2" stroke="#222" stroke-width="1"/><text x="41.7" y="364.6" text-anchor="middle" class="sf" font-size="13.6" fill="#111">3</text><line x1="22.0" y1="351.2" x2="30.0" y2="351.2" stroke="#222" stroke-width="1"/><text x="146.1" y="344.9" text-anchor="middle" class="sf" font-size="13.6" fill="#111">2<tspan font-style="italic" font-size="15">π</tspan></text><line x1="138.1" y1="351.2" x2="154.1" y2="351.2" stroke="#222" stroke-width="1"/><text x="146.1" y="364.6" text-anchor="middle" class="sf" font-size="13.6" fill="#111">3</text>
<rect x="188.50" y="220.80" width="112.50" height="110.15" fill="#fff"/><rect x="188.5" y="257.6" width="11.7" height="35.3" fill="#dbe8d2"/><path d="M188.5 275.8L189.1 275.0L189.6 274.1L190.2 273.3L190.8 272.5L191.3 271.6L191.9 270.8L192.4 269.9L193.0 269.1L193.6 268.3L194.1 267.5L194.7 266.6L195.2 265.8L195.8 265.0L196.4 264.2L196.9 263.4L197.5 262.5L198.1 261.7L198.6 260.9L199.2 260.2L199.8 259.4L200.3 258.6L200.9 257.8L201.4 257.1L202.0 256.3L202.6 255.6L203.1 254.8L203.7 254.1L204.2 253.4L204.8 252.7L205.4 252.0L205.9 251.3L206.5 250.7L207.1 250.0L207.6 249.4L208.2 248.8L208.8 248.2L209.3 247.6L209.9 247.1L210.4 246.6L211.0 246.1L211.6 245.6L212.1 245.1L212.7 244.7L213.2 244.3L213.8 243.9L214.4 243.6L214.9 243.3L215.5 243.0L216.1 242.7L216.6 242.5L217.2 242.3L217.8 242.1L218.3 242.0L218.9 241.9L219.4 241.9L220.0 241.9L220.6 241.9L221.1 241.9L221.7 242.0L222.2 242.2L222.8 242.4L223.4 242.6L223.9 242.8L224.5 243.1L225.1 243.5L225.6 243.8L226.2 244.2L226.8 244.7L227.3 245.2L227.9 245.7L228.4 246.3L229.0 246.9L229.6 247.5L230.1 248.2L230.7 248.9L231.2 249.7L231.8 250.5L232.4 251.3L232.9 252.2L233.5 253.1L234.1 254.0L234.6 255.0L235.2 256.0L235.8 257.0L236.3 258.0L236.9 259.1L237.4 260.2L238.0 261.3L238.6 262.4L239.1 263.6L239.7 264.7L240.2 265.9L240.8 267.1L241.4 268.3L241.9 269.6L242.5 270.8L243.1 272.1L243.6 273.3L244.2 274.6L244.8 275.8L245.3 277.1L245.9 278.3L246.4 279.6L247.0 280.8L247.6 282.0L248.1 283.3L248.7 284.5L249.2 285.7L249.8 286.9L250.4 288.0L250.9 289.2L251.5 290.3L252.1 291.4L252.6 292.5L253.2 293.6L253.8 294.6L254.3 295.7L254.9 296.6L255.4 297.6L256.0 298.5L256.6 299.4L257.1 300.3L257.7 301.1L258.2 301.9L258.8 302.7L259.4 303.4L259.9 304.1L260.5 304.7L261.1 305.3L261.6 305.9L262.2 306.4L262.8 306.9L263.3 307.4L263.9 307.8L264.4 308.2L265.0 308.5L265.6 308.8L266.1 309.0L266.7 309.3L267.2 309.4L267.8 309.6L268.4 309.7L268.9 309.7L269.5 309.7L270.1 309.7L270.6 309.7L271.2 309.6L271.8 309.5L272.3 309.3L272.9 309.1L273.4 308.9L274.0 308.6L274.6 308.3L275.1 308.0L275.7 307.7L276.2 307.3L276.8 306.9L277.4 306.5L277.9 306.0L278.5 305.5L279.1 305.0L279.6 304.5L280.2 304.0L280.8 303.4L281.3 302.8L281.9 302.2L282.4 301.6L283.0 300.9L283.6 300.3L284.1 299.6L284.7 298.9L285.2 298.2L285.8 297.5L286.4 296.8L286.9 296.1L287.5 295.3L288.1 294.6L288.6 293.8L289.2 293.0L289.8 292.2L290.3 291.5L290.9 290.7L291.4 289.9L292.0 289.1L292.6 288.3L293.1 287.4L293.7 286.6L294.2 285.8L294.8 285.0L295.4 284.2L295.9 283.3L296.5 282.5L297.1 281.7L297.6 280.8L298.2 280.0L298.8 279.2L299.3 278.3L299.9 277.5L300.4 276.6L301.0 275.8" fill="none" stroke="#222" stroke-width="0.9"/><circle cx="188.5" cy="275.8" r="2.1" fill="#fff" stroke="#1c1c1c" stroke-width="0.85"/><circle cx="193.1" cy="269.0" r="2.1" fill="#fff" stroke="#1c1c1c" stroke-width="0.85"/><circle cx="197.7" cy="262.3" r="2.1" fill="#fff" stroke="#1c1c1c" stroke-width="0.85"/><circle cx="202.2" cy="256.0" r="2.1" fill="#fff" stroke="#1c1c1c" stroke-width="0.85"/><circle cx="206.8" cy="250.3" r="2.1" fill="#fff" stroke="#1c1c1c" stroke-width="0.85"/><circle cx="211.4" cy="245.7" r="2.1" fill="#fff" stroke="#1c1c1c" stroke-width="0.85"/><circle cx="216.0" cy="242.8" r="2.1" fill="#fff" stroke="#1c1c1c" stroke-width="0.85"/><circle cx="220.5" cy="241.9" r="2.1" fill="#fff" stroke="#1c1c1c" stroke-width="0.85"/><circle cx="225.1" cy="243.5" r="2.1" fill="#fff" stroke="#1c1c1c" stroke-width="0.85"/><circle cx="229.7" cy="247.7" r="2.1" fill="#fff" stroke="#1c1c1c" stroke-width="0.85"/><circle cx="234.3" cy="254.3" r="2.1" fill="#fff" stroke="#1c1c1c" stroke-width="0.85"/><circle cx="238.8" cy="263.0" r="2.1" fill="#fff" stroke="#1c1c1c" stroke-width="0.85"/><circle cx="243.4" cy="272.8" r="2.1" fill="#fff" stroke="#1c1c1c" stroke-width="0.85"/><circle cx="248.0" cy="282.9" r="2.1" fill="#fff" stroke="#1c1c1c" stroke-width="0.85"/><circle cx="252.6" cy="292.4" r="2.1" fill="#fff" stroke="#1c1c1c" stroke-width="0.85"/><circle cx="257.1" cy="300.3" r="2.1" fill="#fff" stroke="#1c1c1c" stroke-width="0.85"/><circle cx="261.7" cy="306.0" r="2.1" fill="#fff" stroke="#1c1c1c" stroke-width="0.85"/><circle cx="266.3" cy="309.1" r="2.1" fill="#fff" stroke="#1c1c1c" stroke-width="0.85"/><circle cx="270.9" cy="309.6" r="2.1" fill="#fff" stroke="#1c1c1c" stroke-width="0.85"/><circle cx="275.4" cy="307.8" r="2.1" fill="#fff" stroke="#1c1c1c" stroke-width="0.85"/><circle cx="280.0" cy="304.1" r="2.1" fill="#fff" stroke="#1c1c1c" stroke-width="0.85"/><circle cx="284.6" cy="299.1" r="2.1" fill="#fff" stroke="#1c1c1c" stroke-width="0.85"/><circle cx="289.2" cy="293.1" r="2.1" fill="#fff" stroke="#1c1c1c" stroke-width="0.85"/><circle cx="293.7" cy="286.6" r="2.1" fill="#fff" stroke="#1c1c1c" stroke-width="0.85"/><circle cx="298.3" cy="279.8" r="2.1" fill="#fff" stroke="#1c1c1c" stroke-width="0.85"/><rect x="188.50" y="220.80" width="112.50" height="110.15" fill="none" stroke="#555" stroke-width="1.3"/><rect x="205.9" y="248.5" width="2.6" height="2.6" fill="#777" fill-opacity="0.7" stroke="#111" stroke-width="0.9"/><rect x="224.7" y="242.8" width="2.6" height="2.6" fill="#777" fill-opacity="0.7" stroke="#111" stroke-width="0.9"/><rect x="243.4" y="274.5" width="2.6" height="2.6" fill="#777" fill-opacity="0.7" stroke="#111" stroke-width="0.9"/><rect x="262.2" y="306.2" width="2.6" height="2.6" fill="#777" fill-opacity="0.7" stroke="#111" stroke-width="0.9"/><rect x="280.9" y="300.5" width="2.6" height="2.6" fill="#777" fill-opacity="0.7" stroke="#111" stroke-width="0.9"/><rect x="299.7" y="274.5" width="2.6" height="2.6" fill="#777" fill-opacity="0.7" stroke="#111" stroke-width="0.9"/><circle cx="188.5" cy="275.8" r="2.0" fill="#999" stroke="#111" stroke-width="1.2"/><line x1="188.5" y1="234.5" x2="190.5" y2="234.5" stroke="#111" stroke-width="0.9"/><line x1="301.0" y1="234.5" x2="299.0" y2="234.5" stroke="#111" stroke-width="0.9"/><text x="184.6" y="238.8" class="ss" font-size="12.8" text-anchor="end" fill="#222">5</text><line x1="188.5" y1="317.1" x2="190.5" y2="317.1" stroke="#111" stroke-width="0.9"/><line x1="301.0" y1="317.1" x2="299.0" y2="317.1" stroke="#111" stroke-width="0.9"/><text x="184.6" y="321.4" class="ss" font-size="12.8" text-anchor="end" fill="#222">2</text><text transform="translate(176.0 278.2) rotate(-90)" text-anchor="middle" class="sf" font-style="italic" font-size="17.5" fill="#111">Y<tspan font-size="12.7" dy="4.2">EC</tspan></text><text x="193.6" y="344.9" text-anchor="middle" class="sf" font-size="13.6" fill="#111">4<tspan font-style="italic" font-size="15">π</tspan></text><line x1="185.6" y1="351.2" x2="201.6" y2="351.2" stroke="#222" stroke-width="1"/><text x="193.6" y="364.6" text-anchor="middle" class="sf" font-size="13.6" fill="#111">3</text><line x1="173.9" y1="351.2" x2="181.9" y2="351.2" stroke="#222" stroke-width="1"/><text x="298.0" y="344.9" text-anchor="middle" class="sf" font-size="13.6" fill="#111">2<tspan font-style="italic" font-size="15">π</tspan></text><line x1="290.0" y1="351.2" x2="306.0" y2="351.2" stroke="#222" stroke-width="1"/><text x="298.0" y="364.6" text-anchor="middle" class="sf" font-size="13.6" fill="#111">3</text>
<rect x="340.60" y="220.80" width="112.50" height="110.15" fill="#fff"/><rect x="340.6" y="257.6" width="11.7" height="35.3" fill="#cbe0ee"/><path d="M340.6 275.8L341.2 276.7L341.7 277.5L342.3 278.4L342.9 279.2L343.4 280.1L344.0 280.9L344.5 281.8L345.1 282.7L345.7 283.5L346.2 284.4L346.8 285.2L347.4 286.1L347.9 286.9L348.5 287.8L349.0 288.6L349.6 289.5L350.2 290.3L350.7 291.2L351.3 292.0L351.9 292.9L352.4 293.7L353.0 294.5L353.5 295.4L354.1 296.2L354.7 297.0L355.2 297.8L355.8 298.6L356.4 299.4L356.9 300.2L357.5 301.0L358.0 301.7L358.6 302.5L359.2 303.2L359.7 303.9L360.3 304.6L360.9 305.3L361.4 306.0L362.0 306.6L362.5 307.3L363.1 307.9L363.7 308.5L364.2 309.0L364.8 309.5L365.4 310.0L365.9 310.5L366.5 311.0L367.0 311.4L367.6 311.8L368.2 312.1L368.7 312.4L369.3 312.7L369.9 312.9L370.4 313.1L371.0 313.3L371.5 313.4L372.1 313.5L372.7 313.5L373.2 313.5L373.8 313.5L374.4 313.4L374.9 313.2L375.5 313.1L376.0 312.8L376.6 312.5L377.2 312.2L377.7 311.8L378.3 311.4L378.9 311.0L379.4 310.4L380.0 309.9L380.5 309.3L381.1 308.6L381.7 307.9L382.2 307.2L382.8 306.4L383.4 305.5L383.9 304.7L384.5 303.7L385.0 302.8L385.6 301.8L386.2 300.7L386.7 299.7L387.3 298.5L387.9 297.4L388.4 296.2L389.0 295.0L389.5 293.8L390.1 292.5L390.7 291.2L391.2 289.9L391.8 288.5L392.4 287.2L392.9 285.8L393.5 284.4L394.0 283.0L394.6 281.6L395.2 280.1L395.7 278.7L396.3 277.2L396.9 275.8L397.4 274.4L398.0 272.9L398.5 271.5L399.1 270.1L399.7 268.6L400.2 267.2L400.8 265.8L401.4 264.4L401.9 263.1L402.5 261.7L403.0 260.4L403.6 259.1L404.2 257.9L404.7 256.6L405.3 255.4L405.9 254.2L406.4 253.1L407.0 252.0L407.5 250.9L408.1 249.8L408.7 248.8L409.2 247.9L409.8 246.9L410.4 246.1L410.9 245.2L411.5 244.4L412.0 243.7L412.6 243.0L413.2 242.3L413.7 241.7L414.3 241.2L414.9 240.7L415.4 240.2L416.0 239.8L416.5 239.4L417.1 239.1L417.7 238.8L418.2 238.6L418.8 238.4L419.4 238.2L419.9 238.1L420.5 238.1L421.0 238.1L421.6 238.1L422.2 238.2L422.7 238.3L423.3 238.5L423.9 238.7L424.4 238.9L425.0 239.2L425.5 239.5L426.1 239.8L426.7 240.2L427.2 240.6L427.8 241.1L428.4 241.6L428.9 242.1L429.5 242.6L430.0 243.2L430.6 243.7L431.2 244.3L431.7 245.0L432.3 245.6L432.9 246.3L433.4 247.0L434.0 247.7L434.5 248.4L435.1 249.1L435.7 249.9L436.2 250.6L436.8 251.4L437.4 252.2L437.9 253.0L438.5 253.8L439.0 254.6L439.6 255.4L440.2 256.2L440.7 257.1L441.3 257.9L441.9 258.7L442.4 259.6L443.0 260.4L443.5 261.3L444.1 262.1L444.7 263.0L445.2 263.8L445.8 264.7L446.4 265.5L446.9 266.4L447.5 267.2L448.0 268.1L448.6 269.0L449.2 269.8L449.7 270.7L450.3 271.5L450.9 272.4L451.4 273.2L452.0 274.1L452.5 274.9L453.1 275.8" fill="none" stroke="#222" stroke-width="0.9"/><circle cx="340.6" cy="275.8" r="2.1" fill="#fff" stroke="#1c1c1c" stroke-width="0.85"/><circle cx="345.2" cy="282.8" r="2.1" fill="#fff" stroke="#1c1c1c" stroke-width="0.85"/><circle cx="349.8" cy="289.7" r="2.1" fill="#fff" stroke="#1c1c1c" stroke-width="0.85"/><circle cx="354.3" cy="296.5" r="2.1" fill="#fff" stroke="#1c1c1c" stroke-width="0.85"/><circle cx="358.9" cy="302.9" r="2.1" fill="#fff" stroke="#1c1c1c" stroke-width="0.85"/><circle cx="363.5" cy="308.3" r="2.1" fill="#fff" stroke="#1c1c1c" stroke-width="0.85"/><circle cx="368.1" cy="312.0" r="2.1" fill="#fff" stroke="#1c1c1c" stroke-width="0.85"/><circle cx="372.6" cy="313.5" r="2.1" fill="#fff" stroke="#1c1c1c" stroke-width="0.85"/><circle cx="377.2" cy="312.2" r="2.1" fill="#fff" stroke="#1c1c1c" stroke-width="0.85"/><circle cx="381.8" cy="307.8" r="2.1" fill="#fff" stroke="#1c1c1c" stroke-width="0.85"/><circle cx="386.4" cy="300.4" r="2.1" fill="#fff" stroke="#1c1c1c" stroke-width="0.85"/><circle cx="390.9" cy="290.6" r="2.1" fill="#fff" stroke="#1c1c1c" stroke-width="0.85"/><circle cx="395.5" cy="279.3" r="2.1" fill="#fff" stroke="#1c1c1c" stroke-width="0.85"/><circle cx="400.1" cy="267.6" r="2.1" fill="#fff" stroke="#1c1c1c" stroke-width="0.85"/><circle cx="404.7" cy="256.8" r="2.1" fill="#fff" stroke="#1c1c1c" stroke-width="0.85"/><circle cx="409.2" cy="247.9" r="2.1" fill="#fff" stroke="#1c1c1c" stroke-width="0.85"/><circle cx="413.8" cy="241.6" r="2.1" fill="#fff" stroke="#1c1c1c" stroke-width="0.85"/><circle cx="418.4" cy="238.5" r="2.1" fill="#fff" stroke="#1c1c1c" stroke-width="0.85"/><circle cx="423.0" cy="238.4" r="2.1" fill="#fff" stroke="#1c1c1c" stroke-width="0.85"/><circle cx="427.5" cy="240.9" r="2.1" fill="#fff" stroke="#1c1c1c" stroke-width="0.85"/><circle cx="432.1" cy="245.4" r="2.1" fill="#fff" stroke="#1c1c1c" stroke-width="0.85"/><circle cx="436.7" cy="251.3" r="2.1" fill="#fff" stroke="#1c1c1c" stroke-width="0.85"/><circle cx="441.3" cy="257.9" r="2.1" fill="#fff" stroke="#1c1c1c" stroke-width="0.85"/><circle cx="445.8" cy="264.7" r="2.1" fill="#fff" stroke="#1c1c1c" stroke-width="0.85"/><circle cx="450.4" cy="271.7" r="2.1" fill="#fff" stroke="#1c1c1c" stroke-width="0.85"/><rect x="340.60" y="220.80" width="112.50" height="110.15" fill="none" stroke="#555" stroke-width="1.3"/><rect x="358.1" y="302.2" width="2.6" height="2.6" fill="#777" fill-opacity="0.7" stroke="#111" stroke-width="0.9"/><rect x="376.8" y="310.3" width="2.6" height="2.6" fill="#777" fill-opacity="0.7" stroke="#111" stroke-width="0.9"/><rect x="395.6" y="274.5" width="2.6" height="2.6" fill="#777" fill-opacity="0.7" stroke="#111" stroke-width="0.9"/><rect x="414.3" y="238.7" width="2.6" height="2.6" fill="#777" fill-opacity="0.7" stroke="#111" stroke-width="0.9"/><rect x="433.1" y="246.8" width="2.6" height="2.6" fill="#777" fill-opacity="0.7" stroke="#111" stroke-width="0.9"/><rect x="451.8" y="274.5" width="2.6" height="2.6" fill="#777" fill-opacity="0.7" stroke="#111" stroke-width="0.9"/><circle cx="340.6" cy="275.8" r="2.0" fill="#999" stroke="#111" stroke-width="1.2"/><line x1="340.6" y1="234.5" x2="342.6" y2="234.5" stroke="#111" stroke-width="0.9"/><line x1="453.1" y1="234.5" x2="451.1" y2="234.5" stroke="#111" stroke-width="0.9"/><text x="336.7" y="238.8" class="ss" font-size="12.8" text-anchor="end" fill="#222">5</text><line x1="340.6" y1="317.1" x2="342.6" y2="317.1" stroke="#111" stroke-width="0.9"/><line x1="453.1" y1="317.1" x2="451.1" y2="317.1" stroke="#111" stroke-width="0.9"/><text x="336.7" y="321.4" class="ss" font-size="12.8" text-anchor="end" fill="#222">2</text><text transform="translate(328.0 278.2) rotate(-90)" text-anchor="middle" class="sf" font-style="italic" font-size="17.5" fill="#111">Z<tspan font-size="12.7" dy="4.2">EC</tspan></text><text x="345.7" y="344.9" text-anchor="middle" class="sf" font-size="13.6" fill="#111">4<tspan font-style="italic" font-size="15">π</tspan></text><line x1="337.7" y1="351.2" x2="353.7" y2="351.2" stroke="#222" stroke-width="1"/><text x="345.7" y="364.6" text-anchor="middle" class="sf" font-size="13.6" fill="#111">3</text><line x1="326.0" y1="351.2" x2="334.0" y2="351.2" stroke="#222" stroke-width="1"/><text x="450.1" y="344.9" text-anchor="middle" class="sf" font-size="13.6" fill="#111">2<tspan font-style="italic" font-size="15">π</tspan></text><line x1="442.1" y1="351.2" x2="458.1" y2="351.2" stroke="#222" stroke-width="1"/><text x="450.1" y="364.6" text-anchor="middle" class="sf" font-size="13.6" fill="#111">3</text>
<rect x="492.70" y="220.80" width="112.40" height="110.15" fill="#fff"/><rect x="492.7" y="257.6" width="11.7" height="35.3" fill="#fddcfa"/><path d="M492.7 275.8L493.3 275.1L493.8 274.3L494.4 273.6L494.9 272.9L495.5 272.1L496.1 271.4L496.6 270.6L497.2 269.9L497.8 269.1L498.3 268.3L498.9 267.6L499.4 266.8L500.0 266.0L500.6 265.2L501.1 264.4L501.7 263.6L502.3 262.8L502.8 261.9L503.4 261.1L503.9 260.3L504.5 259.4L505.1 258.6L505.6 257.7L506.2 256.8L506.8 256.0L507.3 255.1L507.9 254.2L508.4 253.3L509.0 252.4L509.6 251.5L510.1 250.7L510.7 249.8L511.2 248.9L511.8 248.0L512.4 247.2L512.9 246.3L513.5 245.5L514.1 244.7L514.6 243.9L515.2 243.1L515.7 242.3L516.3 241.5L516.9 240.8L517.4 240.1L518.0 239.4L518.6 238.7L519.1 238.1L519.7 237.5L520.2 237.0L520.8 236.4L521.4 236.0L521.9 235.5L522.5 235.1L523.0 234.8L523.6 234.5L524.2 234.2L524.7 234.0L525.3 233.8L525.9 233.7L526.4 233.7L527.0 233.7L527.5 233.7L528.1 233.9L528.7 234.0L529.2 234.3L529.8 234.6L530.4 234.9L530.9 235.3L531.5 235.8L532.0 236.4L532.6 237.0L533.2 237.6L533.7 238.4L534.3 239.1L534.9 240.0L535.4 240.9L536.0 241.8L536.5 242.9L537.1 243.9L537.7 245.1L538.2 246.3L538.8 247.5L539.3 248.8L539.9 250.1L540.5 251.5L541.0 252.9L541.6 254.4L542.2 255.8L542.7 257.4L543.3 258.9L543.8 260.5L544.4 262.2L545.0 263.8L545.5 265.5L546.1 267.2L546.7 268.9L547.2 270.6L547.8 272.3L548.3 274.1L548.9 275.8L549.5 277.5L550.0 279.3L550.6 281.0L551.1 282.7L551.7 284.4L552.3 286.1L552.8 287.8L553.4 289.4L554.0 291.1L554.5 292.7L555.1 294.2L555.6 295.8L556.2 297.3L556.8 298.7L557.3 300.1L557.9 301.5L558.5 302.8L559.0 304.1L559.6 305.4L560.1 306.5L560.7 307.7L561.3 308.7L561.8 309.8L562.4 310.7L563.0 311.6L563.5 312.5L564.1 313.3L564.6 314.0L565.2 314.6L565.8 315.2L566.3 315.8L566.9 316.3L567.4 316.7L568.0 317.0L568.6 317.3L569.1 317.6L569.7 317.8L570.3 317.9L570.8 317.9L571.4 317.9L571.9 317.9L572.5 317.8L573.1 317.6L573.6 317.4L574.2 317.2L574.8 316.8L575.3 316.5L575.9 316.1L576.4 315.7L577.0 315.2L577.6 314.7L578.1 314.1L578.7 313.5L579.2 312.9L579.8 312.2L580.4 311.5L580.9 310.8L581.5 310.1L582.1 309.3L582.6 308.6L583.2 307.8L583.7 306.9L584.3 306.1L584.9 305.3L585.4 304.4L586.0 303.6L586.6 302.7L587.1 301.8L587.7 300.9L588.2 300.1L588.8 299.2L589.4 298.3L589.9 297.4L590.5 296.5L591.0 295.7L591.6 294.8L592.2 293.9L592.7 293.1L593.3 292.2L593.9 291.4L594.4 290.5L595.0 289.7L595.5 288.8L596.1 288.0L596.7 287.2L597.2 286.4L597.8 285.6L598.4 284.8L598.9 284.1L599.5 283.3L600.0 282.5L600.6 281.7L601.2 281.0L601.7 280.2L602.3 279.5L602.9 278.8L603.4 278.0L604.0 277.3L604.5 276.5L605.1 275.8" fill="none" stroke="#222" stroke-width="0.9"/><circle cx="492.7" cy="275.8" r="2.1" fill="#fff" stroke="#1c1c1c" stroke-width="0.85"/><circle cx="497.3" cy="269.8" r="2.1" fill="#fff" stroke="#1c1c1c" stroke-width="0.85"/><circle cx="501.8" cy="263.4" r="2.1" fill="#fff" stroke="#1c1c1c" stroke-width="0.85"/><circle cx="506.4" cy="256.5" r="2.1" fill="#fff" stroke="#1c1c1c" stroke-width="0.85"/><circle cx="511.0" cy="249.3" r="2.1" fill="#fff" stroke="#1c1c1c" stroke-width="0.85"/><circle cx="515.6" cy="242.5" r="2.1" fill="#fff" stroke="#1c1c1c" stroke-width="0.85"/><circle cx="520.1" cy="237.1" r="2.1" fill="#fff" stroke="#1c1c1c" stroke-width="0.85"/><circle cx="524.7" cy="234.0" r="2.1" fill="#fff" stroke="#1c1c1c" stroke-width="0.85"/><circle cx="529.3" cy="234.3" r="2.1" fill="#fff" stroke="#1c1c1c" stroke-width="0.85"/><circle cx="533.8" cy="238.5" r="2.1" fill="#fff" stroke="#1c1c1c" stroke-width="0.85"/><circle cx="538.4" cy="246.7" r="2.1" fill="#fff" stroke="#1c1c1c" stroke-width="0.85"/><circle cx="543.0" cy="258.1" r="2.1" fill="#fff" stroke="#1c1c1c" stroke-width="0.85"/><circle cx="547.6" cy="271.7" r="2.1" fill="#fff" stroke="#1c1c1c" stroke-width="0.85"/><circle cx="552.1" cy="285.7" r="2.1" fill="#fff" stroke="#1c1c1c" stroke-width="0.85"/><circle cx="556.7" cy="298.5" r="2.1" fill="#fff" stroke="#1c1c1c" stroke-width="0.85"/><circle cx="561.3" cy="308.8" r="2.1" fill="#fff" stroke="#1c1c1c" stroke-width="0.85"/><circle cx="565.8" cy="315.3" r="2.1" fill="#fff" stroke="#1c1c1c" stroke-width="0.85"/><circle cx="570.4" cy="317.9" r="2.1" fill="#fff" stroke="#1c1c1c" stroke-width="0.85"/><circle cx="575.0" cy="316.7" r="2.1" fill="#fff" stroke="#1c1c1c" stroke-width="0.85"/><circle cx="579.6" cy="312.5" r="2.1" fill="#fff" stroke="#1c1c1c" stroke-width="0.85"/><circle cx="584.1" cy="306.4" r="2.1" fill="#fff" stroke="#1c1c1c" stroke-width="0.85"/><circle cx="588.7" cy="299.3" r="2.1" fill="#fff" stroke="#1c1c1c" stroke-width="0.85"/><circle cx="593.3" cy="292.2" r="2.1" fill="#fff" stroke="#1c1c1c" stroke-width="0.85"/><circle cx="597.8" cy="285.6" r="2.1" fill="#fff" stroke="#1c1c1c" stroke-width="0.85"/><circle cx="602.4" cy="279.3" r="2.1" fill="#fff" stroke="#1c1c1c" stroke-width="0.85"/><rect x="492.70" y="220.80" width="112.40" height="110.15" fill="none" stroke="#555" stroke-width="1.3"/><rect x="510.1" y="247.3" width="2.6" height="2.6" fill="#777" fill-opacity="0.7" stroke="#111" stroke-width="0.9"/><rect x="528.9" y="233.5" width="2.6" height="2.6" fill="#777" fill-opacity="0.7" stroke="#111" stroke-width="0.9"/><rect x="547.6" y="274.5" width="2.6" height="2.6" fill="#777" fill-opacity="0.7" stroke="#111" stroke-width="0.9"/><rect x="566.3" y="315.5" width="2.6" height="2.6" fill="#777" fill-opacity="0.7" stroke="#111" stroke-width="0.9"/><rect x="585.1" y="301.7" width="2.6" height="2.6" fill="#777" fill-opacity="0.7" stroke="#111" stroke-width="0.9"/><rect x="603.8" y="274.5" width="2.6" height="2.6" fill="#777" fill-opacity="0.7" stroke="#111" stroke-width="0.9"/><circle cx="492.7" cy="275.8" r="2.0" fill="#999" stroke="#111" stroke-width="1.2"/><line x1="492.7" y1="234.5" x2="494.7" y2="234.5" stroke="#111" stroke-width="0.9"/><line x1="605.1" y1="234.5" x2="603.1" y2="234.5" stroke="#111" stroke-width="0.9"/><text x="488.8" y="238.8" class="ss" font-size="12.8" text-anchor="end" fill="#222">5</text><line x1="492.7" y1="317.1" x2="494.7" y2="317.1" stroke="#111" stroke-width="0.9"/><line x1="605.1" y1="317.1" x2="603.1" y2="317.1" stroke="#111" stroke-width="0.9"/><text x="488.8" y="321.4" class="ss" font-size="12.8" text-anchor="end" fill="#222">2</text><text transform="translate(480.5 278.2) rotate(-90)" text-anchor="middle" class="sf" font-style="italic" font-size="17.5" fill="#111">S<tspan font-size="12.7" dy="4.2">EC</tspan></text><text x="497.8" y="344.9" text-anchor="middle" class="sf" font-size="13.6" fill="#111">4<tspan font-style="italic" font-size="15">π</tspan></text><line x1="489.8" y1="351.2" x2="505.8" y2="351.2" stroke="#222" stroke-width="1"/><text x="497.8" y="364.6" text-anchor="middle" class="sf" font-size="13.6" fill="#111">3</text><line x1="478.1" y1="351.2" x2="486.1" y2="351.2" stroke="#222" stroke-width="1"/><text x="602.1" y="344.9" text-anchor="middle" class="sf" font-size="13.6" fill="#111">2<tspan font-style="italic" font-size="15">π</tspan></text><line x1="594.1" y1="351.2" x2="610.1" y2="351.2" stroke="#222" stroke-width="1"/><text x="602.1" y="364.6" text-anchor="middle" class="sf" font-size="13.6" fill="#111">3</text>
</g>
<g id="pi">
<rect x="36.5" y="385.8" width="112.6" height="81.9" fill="#fff"/><line x1="36.5" y1="426.6" x2="149.1" y2="458.5" stroke="#222" stroke-width="0.9"/><circle cx="36.5" cy="426.6" r="2.2" fill="#000"/><circle cx="44.0" cy="428.9" r="2.2" fill="#000"/><circle cx="51.5" cy="431.3" r="2.2" fill="#000"/><circle cx="59.0" cy="433.7" r="2.2" fill="#000"/><circle cx="66.5" cy="436.0" r="2.2" fill="#000"/><circle cx="74.0" cy="438.4" r="2.2" fill="#000"/><circle cx="81.5" cy="440.8" r="2.2" fill="#000"/><circle cx="89.0" cy="443.1" r="2.2" fill="#000"/><circle cx="96.5" cy="445.5" r="2.2" fill="#000"/><circle cx="104.0" cy="447.9" r="2.2" fill="#000"/><circle cx="111.5" cy="450.2" r="2.2" fill="#000"/><circle cx="119.1" cy="452.6" r="2.2" fill="#000"/><circle cx="126.6" cy="455.0" r="2.2" fill="#000"/><circle cx="134.1" cy="457.3" r="2.2" fill="#000"/><circle cx="141.6" cy="459.7" r="2.2" fill="#000"/><circle cx="149.1" cy="462.1" r="2.2" fill="#000"/><rect x="36.45" y="385.80" width="112.65" height="81.95" fill="none" stroke="#fc6c6c" stroke-width="1.75"/><line x1="36.8" y1="397.2" x2="38.7" y2="397.2" stroke="#333" stroke-width="0.9"/><line x1="148.8" y1="397.2" x2="146.9" y2="397.2" stroke="#333" stroke-width="0.9"/><text x="32.6" y="401.8" class="ss" font-size="12.6" text-anchor="end" fill="#222">4</text><line x1="36.8" y1="455.9" x2="38.7" y2="455.9" stroke="#333" stroke-width="0.9"/><line x1="148.8" y1="455.9" x2="146.9" y2="455.9" stroke="#333" stroke-width="0.9"/><text x="32.6" y="460.4" class="ss" font-size="12.6" text-anchor="end" fill="#222">3</text><text transform="translate(24.0 429.0) rotate(-90)" text-anchor="middle" class="sf" font-style="italic" font-size="17.5" fill="#111">X<tspan font-size="12.7" dy="4.2">EC</tspan></text><text x="41.6" y="481.5" text-anchor="middle" class="sf" font-size="13.6" fill="#111">4<tspan font-style="italic" font-size="15">π</tspan></text><line x1="33.6" y1="487.9" x2="49.6" y2="487.9" stroke="#222" stroke-width="1"/><text x="41.6" y="501.2" text-anchor="middle" class="sf" font-size="13.6" fill="#111">3</text><line x1="21.9" y1="487.9" x2="29.9" y2="487.9" stroke="#222" stroke-width="1"/><text x="151.1" y="481.5" text-anchor="middle" class="sf" font-size="13.6" fill="#111">17<tspan font-style="italic" font-size="15">π</tspan></text><line x1="139.1" y1="487.9" x2="163.1" y2="487.9" stroke="#222" stroke-width="1"/><text x="151.1" y="501.2" text-anchor="middle" class="sf" font-size="13.6" fill="#111">15</text><line x1="127.4" y1="487.9" x2="135.4" y2="487.9" stroke="#222" stroke-width="1"/><text x="92.8" y="503.0" text-anchor="middle" class="sf" font-style="italic" font-size="22" fill="#111">φ<tspan font-size="16" dy="3">n</tspan></text>
<rect x="188.5" y="385.8" width="112.5" height="81.9" fill="#fff"/><line x1="188.5" y1="426.6" x2="301.0" y2="391.4" stroke="#222" stroke-width="0.9"/><circle cx="188.5" cy="426.6" r="2.2" fill="#000"/><circle cx="196.0" cy="424.2" r="2.2" fill="#000"/><circle cx="203.5" cy="421.9" r="2.2" fill="#000"/><circle cx="211.0" cy="419.5" r="2.2" fill="#000"/><circle cx="218.5" cy="417.2" r="2.2" fill="#000"/><circle cx="226.0" cy="414.8" r="2.2" fill="#000"/><circle cx="233.5" cy="412.5" r="2.2" fill="#000"/><circle cx="241.0" cy="410.2" r="2.2" fill="#000"/><circle cx="248.5" cy="407.8" r="2.2" fill="#000"/><circle cx="256.0" cy="405.5" r="2.2" fill="#000"/><circle cx="263.5" cy="403.1" r="2.2" fill="#000"/><circle cx="271.0" cy="400.8" r="2.2" fill="#000"/><circle cx="278.5" cy="398.4" r="2.2" fill="#000"/><circle cx="286.0" cy="396.1" r="2.2" fill="#000"/><circle cx="293.5" cy="393.7" r="2.2" fill="#000"/><circle cx="301.0" cy="391.4" r="2.2" fill="#000"/><rect x="188.50" y="385.80" width="112.50" height="81.95" fill="none" stroke="#a9cc97" stroke-width="1.75"/><line x1="188.8" y1="397.2" x2="190.7" y2="397.2" stroke="#333" stroke-width="0.9"/><line x1="300.7" y1="397.2" x2="298.8" y2="397.2" stroke="#333" stroke-width="0.9"/><text x="184.6" y="401.8" class="ss" font-size="12.6" text-anchor="end" fill="#222">4</text><line x1="188.8" y1="455.9" x2="190.7" y2="455.9" stroke="#333" stroke-width="0.9"/><line x1="300.7" y1="455.9" x2="298.8" y2="455.9" stroke="#333" stroke-width="0.9"/><text x="184.6" y="460.4" class="ss" font-size="12.6" text-anchor="end" fill="#222">3</text><text transform="translate(176.0 429.0) rotate(-90)" text-anchor="middle" class="sf" font-style="italic" font-size="17.5" fill="#111">Y<tspan font-size="12.7" dy="4.2">EC</tspan></text><text x="193.6" y="481.5" text-anchor="middle" class="sf" font-size="13.6" fill="#111">4<tspan font-style="italic" font-size="15">π</tspan></text><line x1="185.6" y1="487.9" x2="201.6" y2="487.9" stroke="#222" stroke-width="1"/><text x="193.6" y="501.2" text-anchor="middle" class="sf" font-size="13.6" fill="#111">3</text><line x1="173.9" y1="487.9" x2="181.9" y2="487.9" stroke="#222" stroke-width="1"/><text x="303.0" y="481.5" text-anchor="middle" class="sf" font-size="13.6" fill="#111">17<tspan font-style="italic" font-size="15">π</tspan></text><line x1="291.0" y1="487.9" x2="315.0" y2="487.9" stroke="#222" stroke-width="1"/><text x="303.0" y="501.2" text-anchor="middle" class="sf" font-size="13.6" fill="#111">15</text><line x1="279.3" y1="487.9" x2="287.3" y2="487.9" stroke="#222" stroke-width="1"/><text x="244.8" y="503.0" text-anchor="middle" class="sf" font-style="italic" font-size="22" fill="#111">φ<tspan font-size="16" dy="3">n</tspan></text>
<rect x="340.6" y="385.8" width="112.5" height="81.9" fill="#fff"/><line x1="340.6" y1="426.6" x2="453.1" y2="462.1" stroke="#222" stroke-width="0.9"/><circle cx="340.6" cy="426.6" r="2.2" fill="#000"/><circle cx="348.1" cy="428.9" r="2.2" fill="#000"/><circle cx="355.6" cy="431.3" r="2.2" fill="#000"/><circle cx="363.1" cy="433.7" r="2.2" fill="#000"/><circle cx="370.6" cy="436.0" r="2.2" fill="#000"/><circle cx="378.1" cy="438.4" r="2.2" fill="#000"/><circle cx="385.6" cy="440.8" r="2.2" fill="#000"/><circle cx="393.1" cy="443.1" r="2.2" fill="#000"/><circle cx="400.6" cy="445.5" r="2.2" fill="#000"/><circle cx="408.1" cy="447.9" r="2.2" fill="#000"/><circle cx="415.6" cy="450.2" r="2.2" fill="#000"/><circle cx="423.1" cy="452.6" r="2.2" fill="#000"/><circle cx="430.6" cy="455.0" r="2.2" fill="#000"/><circle cx="438.1" cy="457.3" r="2.2" fill="#000"/><circle cx="445.6" cy="459.7" r="2.2" fill="#000"/><circle cx="453.1" cy="462.1" r="2.2" fill="#000"/><rect x="340.60" y="385.80" width="112.50" height="81.95" fill="none" stroke="#6baed6" stroke-width="1.75"/><line x1="340.9" y1="397.2" x2="342.8" y2="397.2" stroke="#333" stroke-width="0.9"/><line x1="452.8" y1="397.2" x2="450.9" y2="397.2" stroke="#333" stroke-width="0.9"/><text x="336.7" y="401.8" class="ss" font-size="12.6" text-anchor="end" fill="#222">4</text><line x1="340.9" y1="455.9" x2="342.8" y2="455.9" stroke="#333" stroke-width="0.9"/><line x1="452.8" y1="455.9" x2="450.9" y2="455.9" stroke="#333" stroke-width="0.9"/><text x="336.7" y="460.4" class="ss" font-size="12.6" text-anchor="end" fill="#222">3</text><text transform="translate(328.0 429.0) rotate(-90)" text-anchor="middle" class="sf" font-style="italic" font-size="17.5" fill="#111">Z<tspan font-size="12.7" dy="4.2">EC</tspan></text><text x="345.7" y="481.5" text-anchor="middle" class="sf" font-size="13.6" fill="#111">4<tspan font-style="italic" font-size="15">π</tspan></text><line x1="337.7" y1="487.9" x2="353.7" y2="487.9" stroke="#222" stroke-width="1"/><text x="345.7" y="501.2" text-anchor="middle" class="sf" font-size="13.6" fill="#111">3</text><line x1="326.0" y1="487.9" x2="334.0" y2="487.9" stroke="#222" stroke-width="1"/><text x="455.1" y="481.5" text-anchor="middle" class="sf" font-size="13.6" fill="#111">17<tspan font-style="italic" font-size="15">π</tspan></text><line x1="443.1" y1="487.9" x2="467.1" y2="487.9" stroke="#222" stroke-width="1"/><text x="455.1" y="501.2" text-anchor="middle" class="sf" font-size="13.6" fill="#111">15</text><line x1="431.4" y1="487.9" x2="439.4" y2="487.9" stroke="#222" stroke-width="1"/><text x="396.9" y="503.0" text-anchor="middle" class="sf" font-style="italic" font-size="22" fill="#111">φ<tspan font-size="16" dy="3">n</tspan></text>
<rect x="493.0" y="385.8" width="112.5" height="81.9" fill="#fff"/><line x1="493.0" y1="426.6" x2="605.5" y2="391.1" stroke="#222" stroke-width="0.9"/><circle cx="493.0" cy="426.6" r="2.2" fill="#000"/><circle cx="500.5" cy="424.2" r="2.2" fill="#000"/><circle cx="508.0" cy="421.8" r="2.2" fill="#000"/><circle cx="515.5" cy="419.5" r="2.2" fill="#000"/><circle cx="523.0" cy="417.1" r="2.2" fill="#000"/><circle cx="530.5" cy="414.7" r="2.2" fill="#000"/><circle cx="538.0" cy="412.4" r="2.2" fill="#000"/><circle cx="545.5" cy="410.0" r="2.2" fill="#000"/><circle cx="553.0" cy="407.7" r="2.2" fill="#000"/><circle cx="560.5" cy="405.3" r="2.2" fill="#000"/><circle cx="568.0" cy="402.9" r="2.2" fill="#000"/><circle cx="575.5" cy="400.6" r="2.2" fill="#000"/><circle cx="583.0" cy="398.2" r="2.2" fill="#000"/><circle cx="590.5" cy="395.8" r="2.2" fill="#000"/><circle cx="598.0" cy="393.5" r="2.2" fill="#000"/><circle cx="605.5" cy="391.1" r="2.2" fill="#000"/><rect x="493.00" y="385.80" width="112.50" height="81.95" fill="none" stroke="#ff9efc" stroke-width="1.75"/><line x1="493.3" y1="397.2" x2="495.2" y2="397.2" stroke="#333" stroke-width="0.9"/><line x1="605.2" y1="397.2" x2="603.3" y2="397.2" stroke="#333" stroke-width="0.9"/><text x="489.1" y="401.8" class="ss" font-size="12.6" text-anchor="end" fill="#222">4</text><line x1="493.3" y1="455.9" x2="495.2" y2="455.9" stroke="#333" stroke-width="0.9"/><line x1="605.2" y1="455.9" x2="603.3" y2="455.9" stroke="#333" stroke-width="0.9"/><text x="489.1" y="460.4" class="ss" font-size="12.6" text-anchor="end" fill="#222">3</text><text transform="translate(480.5 429.0) rotate(-90)" text-anchor="middle" class="sf" font-style="italic" font-size="17.5" fill="#111">S<tspan font-size="12.7" dy="4.2">EC</tspan></text><text x="498.1" y="481.5" text-anchor="middle" class="sf" font-size="13.6" fill="#111">4<tspan font-style="italic" font-size="15">π</tspan></text><line x1="490.1" y1="487.9" x2="506.1" y2="487.9" stroke="#222" stroke-width="1"/><text x="498.1" y="501.2" text-anchor="middle" class="sf" font-size="13.6" fill="#111">3</text><line x1="478.4" y1="487.9" x2="486.4" y2="487.9" stroke="#222" stroke-width="1"/><text x="607.5" y="481.5" text-anchor="middle" class="sf" font-size="13.6" fill="#111">17<tspan font-style="italic" font-size="15">π</tspan></text><line x1="595.5" y1="487.9" x2="619.5" y2="487.9" stroke="#222" stroke-width="1"/><text x="607.5" y="501.2" text-anchor="middle" class="sf" font-size="13.6" fill="#111">15</text><line x1="583.8" y1="487.9" x2="591.8" y2="487.9" stroke="#222" stroke-width="1"/><text x="549.2" y="503.0" text-anchor="middle" class="sf" font-style="italic" font-size="22" fill="#111">φ<tspan font-size="16" dy="3">n</tspan></text>
</g>
<text x="14.5" y="20.5" class="sf" font-size="20" fill="#000">(a)</text>
<text x="187.5" y="20.5" class="sf" font-size="20" fill="#000">(b)</text>
<text x="384.2" y="20.2" class="sf" font-size="20" fill="#000">(c)</text>
<text x="384.4" y="100.5" class="sf" font-size="20" fill="#000">(d)</text>
<text x="14.7" y="212.3" class="sf" font-size="20" fill="#000">(e)</text>
<text x="167.3" y="212.3" class="sf" font-size="20" fill="#000">(f)</text>
<text x="316.7" y="212.3" class="sf" font-size="20" fill="#000">(g)</text>
<text x="470.0" y="212.3" class="sf" font-size="20" fill="#000">(h)</text>
<text x="14.7" y="380.8" class="sf" font-size="20" fill="#000">(i)</text>
<text x="167.2" y="380.8" class="sf" font-size="20" fill="#000">(j)</text>
<text x="316.8" y="380.8" class="sf" font-size="20" fill="#000">(k)</text>
<text x="470.0" y="380.8" class="sf" font-size="20" fill="#000">(l)</text>
<line x1="34.5" y1="523.3" x2="46.2" y2="523.3" stroke="#222" stroke-width="0.9"/>
<text x="46.0" y="528.0" class="sf" font-size="14" fill="#111">Num. (Hyperbolic)</text>
<circle cx="193.6" cy="523.2" r="2.5" fill="#fff" stroke="#222" stroke-width="1.1"/>
<text x="201.6" y="528.0" class="sf" font-size="14" fill="#111">Num. (Euclidean)</text>
<rect x="338.7" y="521.7" width="3.8" height="4.2" fill="#999" stroke="#111" stroke-width="1.2"/>
<text x="347.3" y="528.0" class="sf" font-size="14" fill="#111">Theor. (Hyperbolic)</text>
<circle cx="496.3" cy="524.1" r="3.1" fill="#000"/>
<text x="504.0" y="528.0" class="sf" font-size="14" fill="#111">Quantized current</text>
</svg>
</body></html>
